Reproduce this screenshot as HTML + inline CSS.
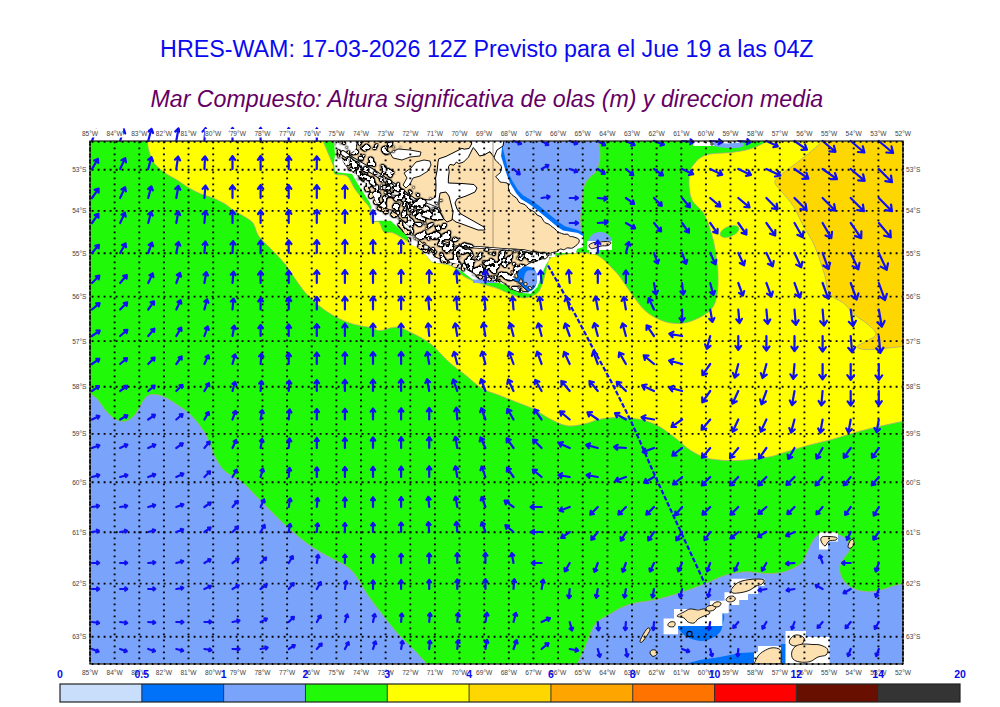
<!DOCTYPE html>
<html><head><meta charset="utf-8"><title>HRES-WAM</title>
<style>
html,body{margin:0;padding:0;background:#fff;width:1000px;height:707px;overflow:hidden;position:relative}
</style></head><body>
<svg width="1000" height="707" viewBox="0 0 1000 707" style="position:absolute;left:0;top:0">
<defs><clipPath id="mc"><rect x="90" y="141" width="813" height="523"/></clipPath></defs>
<g clip-path="url(#mc)">
<rect x="90" y="141" width="813" height="523" fill="rgb(32,250,8)"/>
<path d="M147.0,141.0 C205.7,141.0 264.3,141.0 323.0,141.0 C326.3,149.0 331.0,159.5 333.0,165.0 C335.0,170.5 332.7,172.2 335.0,174.0 C337.3,175.8 343.7,173.5 347.0,176.0 C350.3,178.5 352.4,185.2 355.0,189.0 C357.6,192.8 360.1,195.7 362.6,199.0 C365.1,202.3 368.5,204.9 370.0,208.6 C371.5,212.3 370.0,218.8 371.5,221.0 C373.0,223.2 376.9,220.2 379.0,222.0 C381.1,223.8 381.7,230.2 384.0,232.0 C386.3,233.8 389.2,231.3 393.0,232.8 C396.8,234.3 402.9,238.6 407.0,241.0 C411.1,243.4 414.1,245.1 417.3,247.4 C420.5,249.7 423.7,252.7 426.0,255.0 C428.3,257.3 429.6,260.1 431.3,261.4 C433.0,262.7 433.5,262.1 436.4,262.7 C439.2,263.3 445.2,263.9 448.4,264.8 C451.6,265.8 453.2,266.6 455.6,268.4 C458.0,270.2 459.8,273.5 462.8,275.6 C465.8,277.7 470.0,279.5 473.6,281.0 C477.2,282.5 480.5,283.4 484.4,284.6 C488.3,285.8 492.8,286.7 497.0,288.2 C501.2,289.7 505.1,292.0 509.6,293.6 C514.1,295.2 519.5,298.0 524.0,298.0 C528.5,298.0 533.6,295.8 536.6,293.6 C539.6,291.4 540.5,288.2 542.0,284.6 C543.5,281.0 544.4,276.2 545.6,272.0 C546.8,267.8 547.5,262.1 549.2,259.4 C550.9,256.7 551.7,257.1 556.0,256.0 C560.3,254.9 570.0,253.5 575.0,253.0 C580.0,252.5 582.3,252.7 586.0,253.0 C589.7,253.3 593.8,253.7 597.0,255.0 C600.2,256.3 602.5,258.8 605.0,261.0 C607.5,263.2 609.5,265.3 612.0,268.0 C614.5,270.7 616.7,272.6 620.0,277.0 C623.3,281.4 627.8,288.7 632.0,294.3 C636.2,299.9 640.2,306.2 645.0,310.5 C649.8,314.8 655.6,318.0 661.0,320.2 C666.4,322.4 672.0,323.5 677.5,323.5 C683.0,323.5 688.3,322.4 693.7,320.2 C699.1,318.0 706.2,314.3 710.0,310.5 C713.8,306.7 715.2,303.4 716.5,297.5 C717.8,291.6 718.2,283.1 718.0,275.0 C717.8,266.9 716.3,256.4 715.0,248.7 C713.7,241.0 711.9,234.9 710.0,229.0 C708.1,223.1 706.5,217.8 703.5,213.0 C700.5,208.2 694.4,204.9 692.0,200.0 C689.6,195.1 689.2,188.8 689.0,183.8 C688.8,178.8 689.5,173.5 690.5,170.0 C691.5,166.5 693.4,165.0 695.0,163.0 C696.6,161.0 697.5,159.5 700.0,158.0 C702.5,156.5 705.0,154.9 710.0,154.0 C715.0,153.1 723.3,153.3 730.0,152.5 C736.7,151.7 743.7,150.9 750.0,149.0 C756.3,147.1 762.0,143.7 768.0,141.0 C813.0,141.0 858.0,141.0 903.0,141.0 C903.0,234.4 903.0,327.9 903.0,421.3 C895.4,422.9 888.1,424.4 880.3,426.2 C872.5,428.0 864.3,430.0 856.3,432.2 C848.3,434.4 840.2,437.2 832.2,439.4 C824.2,441.6 816.2,443.2 808.2,445.4 C800.2,447.6 790.0,450.8 784.0,452.6 C778.0,454.4 776.7,455.4 772.0,456.4 C767.3,457.4 761.3,458.1 756.0,458.8 C750.7,459.5 745.3,460.1 740.0,460.4 C734.7,460.7 729.1,460.7 724.0,460.4 C718.9,460.1 713.6,459.6 709.6,458.8 C705.6,458.0 703.5,457.2 700.0,455.6 C696.5,454.0 692.3,451.6 688.8,449.2 C685.3,446.8 682.7,444.0 679.2,441.2 C675.7,438.4 671.7,435.1 668.0,432.4 C664.3,429.7 660.8,427.2 656.8,425.2 C652.8,423.2 648.5,421.6 644.0,420.4 C639.5,419.2 633.6,418.5 629.6,418.0 C625.6,417.5 624.8,417.0 620.0,417.2 C615.2,417.4 607.0,417.9 601.0,419.0 C595.0,420.1 589.7,423.0 584.0,424.1 C578.3,425.2 572.7,426.7 567.0,425.8 C561.3,424.9 555.7,421.8 550.0,419.0 C544.3,416.2 538.7,411.6 533.0,408.8 C527.3,406.0 521.7,404.3 516.0,402.0 C510.3,399.7 504.7,397.5 499.0,395.2 C493.3,392.9 487.7,391.8 482.0,388.4 C476.3,385.0 470.7,379.3 465.0,374.8 C459.3,370.3 453.7,366.3 448.0,361.2 C442.3,356.1 436.7,348.7 431.0,344.2 C425.3,339.7 419.7,336.8 414.0,334.0 C408.3,331.2 402.7,327.8 397.0,327.2 C391.3,326.6 384.3,330.5 380.0,330.6 C375.7,330.7 376.4,329.1 371.3,327.8 C366.2,326.5 356.8,325.6 349.5,323.0 C342.2,320.4 334.6,316.6 327.8,312.2 C321.1,307.8 314.2,301.9 309.0,296.7 C303.8,291.5 300.6,286.4 296.6,281.0 C292.6,275.6 289.3,269.3 285.0,264.0 C280.7,258.7 275.0,253.2 271.0,249.0 C267.0,244.8 263.3,241.7 261.0,239.0 C258.7,236.3 258.3,235.7 257.0,233.0 C255.7,230.3 255.0,225.7 253.0,223.0 C251.0,220.3 248.3,219.2 245.0,217.0 C241.7,214.8 236.3,212.2 233.0,210.0 C229.7,207.8 228.3,206.0 225.0,204.0 C221.7,202.0 217.0,199.7 213.0,198.0 C209.0,196.3 205.0,195.7 201.0,194.0 C197.0,192.3 193.0,190.3 189.0,188.0 C185.0,185.7 181.0,182.5 177.0,180.0 C173.0,177.5 168.8,175.8 165.0,173.0 C161.2,170.2 156.7,166.7 154.0,163.0 C151.3,159.3 150.2,154.7 149.0,151.0 C147.8,147.3 147.7,144.3 147.0,141.0Z" fill="#ffff00" stroke="rgb(170,170,130)" stroke-width="0.8"/>
<path d="M823.0,141.0 C819.4,144.1 816.6,146.8 812.2,150.4 C807.8,154.1 801.4,159.3 796.7,162.9 C792.0,166.5 787.8,169.1 784.2,172.2 C780.6,175.3 775.4,178.5 774.9,181.6 C774.4,184.7 778.0,186.8 781.1,190.9 C784.2,195.1 790.0,200.8 793.6,206.5 C797.2,212.2 799.8,219.4 802.9,225.1 C806.0,230.8 809.6,235.5 812.2,240.7 C814.8,245.9 816.4,250.6 818.5,256.3 C820.6,262.0 822.9,268.7 824.7,274.9 C826.5,281.1 826.3,288.9 829.4,293.6 C832.5,298.3 839.0,299.4 843.4,303.0 C847.8,306.6 851.6,311.8 855.8,315.4 C859.9,319.0 864.9,321.6 868.3,324.7 C871.7,327.8 876.0,331.4 876.0,334.0 C876.0,336.6 871.4,338.2 868.3,340.3 C865.2,342.4 857.4,344.9 857.4,346.5 C857.4,348.1 860.7,349.6 868.3,349.6 C875.9,349.6 891.4,347.5 903.0,346.5 C903.0,278.0 903.0,209.5 903.0,141.0 C876.3,141.0 849.7,141.0 823.0,141.0Z" fill="rgb(255,215,0)" stroke="rgb(170,170,130)" stroke-width="0.8"/>
<path d="M90.0,393.2 C92.5,395.3 94.6,396.3 97.4,399.4 C100.2,402.5 103.7,408.4 106.8,411.8 C109.9,415.2 112.9,418.0 116.0,419.6 C119.1,421.2 122.4,422.0 125.5,421.2 C128.6,420.4 131.7,418.6 134.8,415.0 C137.9,411.4 141.5,402.8 144.1,399.4 C146.7,396.0 147.3,395.2 150.4,394.7 C153.5,394.2 158.1,394.5 162.8,396.3 C167.5,398.1 173.7,402.5 178.4,405.6 C183.1,408.7 186.7,410.9 190.8,415.0 C195.0,419.1 200.2,425.8 203.3,430.5 C206.4,435.2 207.4,438.3 209.5,443.0 C211.6,447.7 213.1,453.8 215.7,458.5 C218.3,463.2 220.8,467.6 225.2,471.5 C229.6,475.4 236.4,477.4 242.0,482.0 C247.6,486.6 251.8,491.8 258.8,498.8 C265.8,505.8 275.6,516.3 284.0,524.0 C292.4,531.7 301.5,539.4 309.2,545.0 C316.9,550.6 323.2,553.4 330.2,557.6 C337.2,561.8 344.9,563.9 351.2,570.2 C357.5,576.5 363.1,588.4 368.0,595.4 C372.9,602.4 375.7,605.9 380.6,612.2 C385.5,618.5 391.8,626.9 397.4,633.2 C403.0,639.5 409.3,644.9 414.2,650.0 C419.1,655.1 422.6,659.3 426.8,664.0 C314.5,664.0 202.3,664.0 90.0,664.0 C90.0,573.7 90.0,483.5 90.0,393.2Z" fill="rgb(122,164,252)" stroke="rgb(170,170,130)" stroke-width="0.8"/>
<path d="M577.2,664.0 C579.5,659.1 581.2,655.9 584.1,649.4 C587.0,642.9 590.5,631.0 594.5,625.2 C598.5,619.5 602.5,618.4 608.3,614.9 C614.0,611.4 621.0,607.1 629.0,604.5 C637.0,601.9 648.0,601.4 656.6,599.4 C665.2,597.4 672.7,595.1 680.7,592.5 C688.8,589.9 697.4,586.7 704.9,583.8 C712.4,580.9 718.7,577.2 725.6,575.2 C732.5,573.2 739.4,572.1 746.3,571.8 C753.2,571.5 760.7,573.5 767.0,573.5 C773.3,573.5 778.5,573.5 784.2,571.8 C790.0,570.1 797.5,566.9 801.5,563.1 C805.5,559.4 806.1,553.6 808.4,549.3 C810.7,545.0 812.4,540.2 815.3,537.3 C818.2,534.4 822.1,532.7 825.6,532.1 C829.1,531.5 832.5,532.6 836.0,533.8 C839.5,534.9 844.0,536.4 846.3,539.0 C848.6,541.6 850.4,545.8 849.8,549.3 C849.2,552.8 844.6,556.2 842.9,559.7 C841.2,563.2 838.8,566.0 839.4,570.0 C840.0,574.0 842.8,580.3 846.3,583.8 C849.8,587.2 854.9,589.6 860.1,590.7 C865.3,591.9 871.6,591.6 877.4,590.7 C883.1,589.9 890.3,586.8 894.6,585.6 C898.9,584.5 900.2,584.4 903.0,583.8 C903.0,610.5 903.0,637.3 903.0,664.0 C794.4,664.0 685.8,664.0 577.2,664.0Z" fill="rgb(122,164,252)" stroke="rgb(170,170,130)" stroke-width="0.8"/>
<path d="M494.0,141.0 C528.8,141.0 563.6,141.0 598.4,141.0 C598.9,146.0 600.3,151.1 600.0,156.0 C599.7,160.9 598.4,166.8 596.6,170.4 C594.8,174.0 591.5,174.9 589.4,177.6 C587.3,180.3 585.2,182.7 584.0,186.6 C582.8,190.5 582.8,195.6 582.2,201.0 C581.6,206.4 580.9,213.6 580.4,219.0 C579.9,224.4 582.9,230.6 579.5,233.4 C576.1,236.2 566.6,237.2 560.0,236.0 C553.4,234.8 546.7,230.0 540.0,226.0 C533.3,222.0 525.8,218.0 520.0,212.0 C514.2,206.0 509.0,198.7 505.0,190.0 C501.0,181.3 497.8,168.2 496.0,160.0 C494.2,151.8 494.7,147.3 494.0,141.0Z" fill="rgb(122,164,252)" stroke="rgb(170,170,130)" stroke-width="0.8"/>
<ellipse cx="729.5" cy="231.5" rx="10" ry="5" transform="rotate(-22 729.5 231.5)" fill="rgb(32,250,8)" stroke="rgb(170,170,130)" stroke-width="0.6"/>
<path d="M588,243 A12,11 0 0 1 612,243 Z" fill="rgb(122,164,252)"/>
<defs><filter id="fjH" filterUnits="userSpaceOnUse" x="320" y="135" width="260" height="170" color-interpolation-filters="sRGB"><feTurbulence type="fractalNoise" baseFrequency="0.15" numOctaves="3" seed="4" result="nz"/><feColorMatrix in="nz" type="matrix" values="0 0 0 0 0  0 0 0 0 0  0 0 0 0 0  30.0 0 0 0 -16.050" result="m"/><feComposite in="m" in2="SourceAlpha" operator="in" result="hl"/><feGaussianBlur in="hl" stdDeviation="1.0" result="bl"/><feColorMatrix in="bl" type="matrix" values="0 0 0 0 0  0 0 0 0 0  0 0 0 0 0  0 0 0 5 0" result="dl"/><feFlood flood-color="#000" result="bk"/><feComposite in="bk" in2="dl" operator="in" result="rg"/><feFlood flood-color="#fff" result="fc"/><feComposite in="fc" in2="hl" operator="in" result="fh"/><feMerge><feMergeNode in="rg"/><feMergeNode in="fh"/></feMerge></filter><filter id="fjH2" filterUnits="userSpaceOnUse" x="320" y="135" width="260" height="170" color-interpolation-filters="sRGB"><feTurbulence type="fractalNoise" baseFrequency="0.16" numOctaves="3" seed="6" result="nz"/><feColorMatrix in="nz" type="matrix" values="0 0 0 0 0  0 0 0 0 0  0 0 0 0 0  30.0 0 0 0 -17.100" result="m"/><feComposite in="m" in2="SourceAlpha" operator="in" result="hl"/><feGaussianBlur in="hl" stdDeviation="1.0" result="bl"/><feColorMatrix in="bl" type="matrix" values="0 0 0 0 0  0 0 0 0 0  0 0 0 0 0  0 0 0 5 0" result="dl"/><feFlood flood-color="#000" result="bk"/><feComposite in="bk" in2="dl" operator="in" result="rg"/><feFlood flood-color="#fff" result="fc"/><feComposite in="fc" in2="hl" operator="in" result="fh"/><feMerge><feMergeNode in="rg"/><feMergeNode in="fh"/></feMerge></filter><filter id="fjI" filterUnits="userSpaceOnUse" x="320" y="135" width="260" height="170" color-interpolation-filters="sRGB"><feTurbulence type="fractalNoise" baseFrequency="0.17" numOctaves="3" seed="9" result="nz"/><feColorMatrix in="nz" type="matrix" values="0 0 0 0 0  0 0 0 0 0  0 0 0 0 0  30.0 0 0 0 -16.500" result="m"/><feComposite in="m" in2="SourceAlpha" operator="in" result="hl"/><feGaussianBlur in="hl" stdDeviation="1.0" result="bl"/><feColorMatrix in="bl" type="matrix" values="0 0 0 0 0  0 0 0 0 0  0 0 0 0 0  0 0 0 5 0" result="dl"/><feFlood flood-color="#000" result="bk"/><feComposite in="bk" in2="dl" operator="in" result="rg"/><feFlood flood-color="rgb(253,224,176)" result="fc"/><feComposite in="fc" in2="hl" operator="in" result="fh"/><feMerge><feMergeNode in="rg"/><feMergeNode in="fh"/></feMerge></filter><clipPath id="cpL"><polygon points="357.0,141.0 471.6,141.0 473.2,147.6 474.8,149.2 479.6,156.0 484.4,154.8 489.3,151.2 493.6,155.0 501.2,166.9 502.0,170.3 495.3,177.0 500.4,181.3 507.2,183.8 508.0,189.0 513.0,196.0 518.4,201.8 527.6,207.3 535.0,212.8 546.0,222.0 555.2,229.4 560.7,233.0 573.6,236.7 579.0,238.5 578.0,244.0 573.6,247.8 560.7,249.6 555.0,252.0 548.0,254.5 545.0,258.0 538.0,261.0 530.0,263.0 524.0,266.0 519.0,270.0 515.0,275.0 514.0,281.0 520.0,285.0 526.0,289.0 528.0,292.0 520.0,292.0 510.0,288.0 502.0,281.0 491.6,277.4 480.8,275.6 470.0,272.0 461.0,264.8 444.0,261.0 434.0,256.0 428.0,246.0 421.0,241.0 413.0,234.0 409.0,226.0 401.0,220.0 396.0,211.0 384.0,208.0 376.6,203.0 370.0,188.0 364.0,181.0 356.0,174.0 348.0,167.0 343.0,162.0 342.0,158.0 348.0,156.0 353.0,153.0 357.0,148.0"/></clipPath><clipPath id="cpW"><polygon points="333.0,141.0 501.0,141.0 502.0,148.0 501.0,156.0 506.6,174.0 510.0,183.0 516.0,193.0 521.0,199.0 530.0,204.5 537.0,210.0 548.0,219.0 557.0,226.6 563.0,230.5 578.0,233.0 583.0,236.0 583.0,240.0 583.0,247.0 577.0,249.0 576.0,253.0 556.0,253.0 555.0,257.0 549.0,257.0 548.8,260.2 546.0,264.4 541.8,274.2 537.6,286.8 530.6,293.8 518.0,292.4 509.6,286.8 498.4,282.6 473.0,279.8 462.0,271.4 449.4,264.4 436.4,262.7 431.3,261.4 426.0,255.0 417.3,247.4 408.4,243.6 407.0,236.0 393.0,223.0 390.6,220.7 380.4,220.7 371.5,221.0 371.5,208.0 370.0,203.0 363.0,192.0 356.0,181.0 352.0,174.0 335.0,172.0 334.0,163.0 335.0,155.0 334.0,141.0"/></clipPath></defs>
<polygon points="494.0,141.0 503.0,141.0 503.0,148.8 509.0,174.0 512.4,181.0 518.0,190.0 523.0,195.3 532.3,200.8 539.7,206.3 550.7,215.5 560.0,223.0 565.4,226.5 578.0,230.0 584.0,233.0 584.0,238.0 560.0,236.0 540.8,220.0 526.4,208.0 517.4,199.0 508.4,186.0 505.0,172.0 499.0,152.0" fill="rgb(0,114,250)" />
<polygon points="333.0,141.0 501.0,141.0 502.0,148.0 501.0,156.0 506.6,174.0 510.0,183.0 516.0,193.0 521.0,199.0 530.0,204.5 537.0,210.0 548.0,219.0 557.0,226.6 563.0,230.5 578.0,233.0 583.0,236.0 583.0,240.0 583.0,247.0 577.0,249.0 576.0,253.0 556.0,253.0 555.0,257.0 549.0,257.0 548.8,260.2 546.0,264.4 541.8,274.2 537.6,286.8 530.6,293.8 518.0,292.4 509.6,286.8 498.4,282.6 473.0,279.8 462.0,271.4 449.4,264.4 436.4,262.7 431.3,261.4 426.0,255.0 417.3,247.4 408.4,243.6 407.0,236.0 393.0,223.0 390.6,220.7 380.4,220.7 371.5,221.0 371.5,208.0 370.0,203.0 363.0,192.0 356.0,181.0 352.0,174.0 335.0,172.0 334.0,163.0 335.0,155.0 334.0,141.0" fill="white" />
<path d="M508.0,267.0 C510.0,264.0 516.8,265.8 521.0,266.0 C525.2,266.2 530.3,266.2 533.0,268.0 C535.7,269.8 536.7,273.8 537.0,277.0 C537.3,280.2 536.5,284.5 535.0,287.0 C533.5,289.5 531.2,291.3 528.0,292.0 C524.8,292.7 519.2,292.3 516.0,291.0 C512.8,289.7 510.3,288.0 509.0,284.0 C507.7,280.0 506.0,270.0 508.0,267.0Z" fill="rgb(0,114,250)"/>
<path d="M527.0,271.0 C529.0,269.7 534.5,269.8 536.0,272.0 C537.5,274.2 537.2,281.5 536.0,284.0 C534.8,286.5 531.0,287.7 529.0,287.0 C527.0,286.3 524.3,282.7 524.0,280.0 C523.7,277.3 525.0,272.3 527.0,271.0Z" fill="rgb(122,164,252)"/>
<polygon points="473,279.5 498,280 498,283 473,283" fill="rgb(122,164,252)"/>
<g clip-path="url(#cpW)"><g filter="url(#fjI)"><polyline points="340.0,150.0 352.0,169.0 366.0,184.0 376.0,203.0 385.0,211.0 395.0,217.0 405.0,228.0 412.0,240.0 426.0,249.0 444.0,260.0 465.0,268.0 482.0,276.0 502.0,281.0" fill="none" stroke="#000" stroke-width="6" stroke-linejoin="round"/><polyline points="338,141 344,152 343,158" fill="none" stroke="#000" stroke-width="10"/></g></g>
<path d="M357.7,141.8 C358.2,141.1 359.1,141.1 359.9,140.8 C361.2,140.9 362.8,141.0 363.9,141.1 C364.9,141.3 365.2,141.5 366.1,141.5 C367.0,141.5 368.2,141.2 369.3,141.0 C370.3,140.9 371.3,140.7 372.4,140.6 C373.2,140.4 374.0,140.3 374.9,140.1 C376.1,140.6 377.4,141.3 378.5,141.6 C379.6,141.9 380.5,142.1 381.6,141.8 C382.6,141.6 383.6,140.8 384.6,140.3 C385.3,140.8 386.0,141.5 386.8,141.8 C387.6,142.0 388.3,141.9 389.5,141.7 C390.6,141.4 392.3,140.8 393.7,140.4 C394.4,140.7 394.7,141.5 395.7,141.4 C396.6,141.4 398.2,140.6 399.5,140.2 C400.4,140.2 401.4,140.3 402.3,140.4 C403.5,140.6 405.0,141.0 405.9,141.1 C406.7,141.1 406.9,140.9 407.4,140.8 C408.4,141.1 409.1,141.6 410.4,141.7 C411.7,141.8 414.0,141.4 415.0,141.4 C416.0,141.4 415.6,141.8 416.4,141.8 C417.2,141.8 418.7,141.4 419.9,141.3 C421.1,141.2 422.9,141.2 423.8,141.1 C424.8,141.0 425.1,140.7 425.7,140.5 C427.0,140.5 428.4,140.4 429.8,140.3 C430.6,140.8 431.3,141.8 432.2,141.8 C433.1,141.8 434.2,140.8 435.2,140.4 C436.4,140.5 437.5,140.6 438.7,140.7 C439.8,140.7 440.9,140.7 442.0,140.8 C443.0,141.0 444.2,141.5 445.0,141.6 C445.9,141.6 446.0,141.3 446.9,141.1 C447.8,140.9 449.2,140.6 450.4,140.3 C451.7,140.5 453.0,140.6 454.2,140.7 C455.1,140.5 455.9,140.4 456.7,140.2 C457.9,140.8 459.3,141.8 460.3,141.9 C461.4,141.9 462.0,140.8 462.9,140.3 C463.9,140.5 464.9,140.7 465.9,140.9 C466.8,140.8 467.6,140.6 468.5,140.5 C469.3,140.9 470.3,140.9 471.0,141.6 C471.6,142.3 472.1,143.8 472.6,144.7 C473.0,145.7 473.2,146.7 473.6,147.4 C474.0,148.1 474.2,148.0 474.9,148.8 C475.5,149.7 476.6,151.3 477.5,152.5 C478.3,153.6 479.0,155.4 480.1,155.6 C481.2,155.9 483.2,154.6 484.2,154.0 C485.2,153.5 485.3,153.0 486.0,152.5 C486.7,152.0 487.2,150.5 488.4,151.1 C489.7,151.6 492.3,154.4 493.4,155.7 C494.4,157.0 494.1,157.9 494.7,158.8 C495.2,159.8 495.9,160.8 496.7,161.5 C497.4,162.3 498.3,162.6 499.0,163.5 C499.8,164.3 501.1,165.6 501.4,166.6 C501.7,167.7 501.3,168.6 501.1,169.6 C500.9,170.7 500.5,172.1 500.1,172.9 C499.6,173.7 499.1,173.7 498.4,174.3 C497.7,175.0 495.9,176.0 495.8,176.7 C495.7,177.5 497.1,177.9 497.9,178.8 C498.6,179.6 499.3,181.4 500.2,182.0 C501.2,182.7 502.1,182.1 503.4,182.4 C504.6,182.7 507.1,182.6 507.9,183.7 C508.8,184.8 508.2,187.5 508.6,189.1 C508.9,190.6 509.4,191.8 510.2,192.9 C511.0,194.0 512.2,194.9 513.3,195.8 C514.3,196.7 515.6,197.1 516.6,198.2 C517.6,199.2 518.2,201.3 519.0,202.2 C519.9,203.1 520.9,203.2 521.8,203.6 C522.8,204.0 524.0,203.9 525.0,204.6 C526.0,205.4 527.1,207.1 527.9,208.0 C528.7,208.8 529.1,209.1 529.9,209.6 C530.7,210.1 532.0,210.4 532.9,211.0 C533.8,211.5 534.8,212.1 535.5,212.8 C536.2,213.5 536.2,214.5 537.1,215.1 C538.0,215.8 539.9,215.9 541.0,216.8 C542.0,217.7 542.5,219.3 543.2,220.3 C543.9,221.3 544.2,222.0 545.1,222.7 C546.1,223.3 547.6,223.5 548.8,224.2 C550.0,225.0 551.5,226.3 552.5,227.1 C553.5,227.8 553.9,228.0 554.8,228.8 C555.7,229.6 556.7,231.1 557.8,231.9 C558.9,232.7 560.5,233.0 561.6,233.4 C562.7,233.8 563.2,234.1 564.3,234.3 C565.3,234.4 567.0,233.9 567.9,234.2 C568.8,234.6 568.9,236.0 569.7,236.4 C570.5,236.8 571.2,236.3 572.7,236.7 C574.3,237.2 577.9,238.1 578.8,239.3 C579.7,240.4 579.2,242.1 578.2,243.5 C577.2,244.9 574.1,247.0 572.8,247.8 C571.5,248.5 571.4,248.2 570.5,248.2 C569.5,248.2 568.4,247.7 567.3,247.9 C566.2,248.2 564.8,249.6 563.7,249.7 C562.5,249.9 561.4,248.7 560.3,249.0 C559.3,249.3 558.0,251.1 557.3,251.6 C556.5,252.1 556.7,251.6 555.7,251.8 C554.7,252.1 552.4,252.4 551.2,253.0 C550.0,253.6 549.6,254.3 548.7,255.2 C547.8,256.2 547.0,258.0 545.8,258.6 C544.7,259.2 543.0,258.5 541.8,258.8 C540.7,259.1 540.0,259.9 538.8,260.4 C537.6,260.9 536.0,261.3 534.4,261.7 C532.8,262.2 530.5,262.7 529.2,263.3 C527.9,263.9 527.5,264.7 526.6,265.2 C525.6,265.7 524.3,266.0 523.4,266.3 C522.6,266.6 522.2,266.6 521.4,267.2 C520.6,267.7 519.3,268.7 518.6,269.7 C518.0,270.6 518.0,272.2 517.5,273.0 C517.0,273.8 516.4,273.6 515.8,274.4 C515.2,275.2 514.3,276.8 514.0,277.8 C513.6,278.8 513.1,279.7 513.7,280.5 C514.3,281.2 516.4,281.5 517.5,282.1 C518.5,282.8 519.2,283.6 520.1,284.3 C520.9,285.1 521.7,285.7 522.7,286.6 C523.6,287.5 525.0,288.9 525.9,289.8 C526.9,290.7 528.6,291.6 528.4,291.9 C528.3,292.2 526.4,291.5 524.9,291.6 C523.4,291.6 520.7,292.3 519.4,292.2 C518.2,292.2 518.2,291.5 517.2,291.1 C516.1,290.7 514.6,290.1 513.3,289.7 C512.1,289.4 510.6,289.4 509.7,288.8 C508.8,288.2 508.6,287.0 507.8,286.2 C506.9,285.4 505.7,284.8 504.7,284.1 C503.8,283.4 503.0,282.4 501.9,281.8 C500.9,281.2 499.6,281.1 498.4,280.6 C497.2,280.1 495.9,279.1 494.7,278.6 C493.6,278.1 492.7,277.7 491.7,277.5 C490.7,277.3 489.9,277.6 488.6,277.4 C487.3,277.3 485.1,276.9 483.8,276.6 C482.5,276.2 482.1,275.7 480.8,275.4 C479.6,275.2 477.6,275.4 476.5,275.1 C475.4,274.8 475.5,274.3 474.5,273.6 C473.4,273.0 471.4,272.0 470.1,271.2 C468.8,270.5 467.8,270.0 466.7,269.3 C465.5,268.6 464.2,267.7 463.3,267.0 C462.3,266.2 461.8,265.2 460.8,264.6 C459.7,264.0 457.8,263.6 456.8,263.4 C455.9,263.2 456.1,263.5 455.0,263.4 C453.9,263.2 451.6,262.7 450.3,262.4 C449.0,262.2 448.3,261.9 447.2,261.7 C446.0,261.6 444.4,261.8 443.4,261.4 C442.5,261.1 442.3,260.1 441.4,259.6 C440.6,259.0 439.4,258.8 438.2,258.2 C436.9,257.6 435.0,257.0 434.1,256.0 C433.1,255.1 433.1,253.6 432.3,252.4 C431.5,251.3 429.9,250.3 429.2,249.2 C428.6,248.2 429.5,247.2 428.6,246.3 C427.6,245.5 425.1,245.0 423.7,244.1 C422.3,243.2 421.2,242.0 420.2,241.0 C419.2,240.1 418.6,239.1 417.8,238.3 C416.9,237.6 415.9,237.1 415.2,236.5 C414.5,235.9 414.1,235.9 413.4,234.7 C412.7,233.5 411.9,230.8 411.0,229.2 C410.1,227.6 409.1,226.2 408.2,225.3 C407.3,224.3 406.5,224.1 405.7,223.4 C404.9,222.8 404.0,222.0 403.3,221.4 C402.6,220.8 402.3,220.4 401.6,219.7 C401.0,219.1 400.1,218.5 399.3,217.5 C398.5,216.6 397.8,215.1 397.1,214.0 C396.4,212.9 395.7,211.6 395.2,211.0 C394.6,210.4 394.7,210.6 393.8,210.4 C392.8,210.2 390.8,210.0 389.6,209.7 C388.5,209.5 387.9,209.0 387.0,208.7 C386.1,208.5 385.2,208.8 384.2,208.4 C383.2,208.0 382.1,207.2 381.0,206.4 C379.9,205.6 378.3,204.5 377.4,203.6 C376.5,202.6 376.3,201.7 375.6,200.5 C374.9,199.4 373.8,197.6 373.4,196.5 C373.0,195.3 373.7,194.7 373.3,193.9 C372.8,193.0 371.1,192.5 370.5,191.4 C369.8,190.4 369.6,188.6 369.3,187.6 C369.1,186.5 369.2,185.9 368.8,185.1 C368.3,184.3 367.3,183.6 366.6,182.9 C365.9,182.2 365.4,181.4 364.5,180.8 C363.7,180.1 362.4,179.8 361.4,179.0 C360.5,178.2 359.9,176.7 359.1,175.8 C358.2,174.9 357.3,174.0 356.3,173.4 C355.3,172.8 353.9,172.9 352.9,172.2 C351.8,171.5 351.0,170.0 350.0,169.2 C349.1,168.3 348.2,168.0 347.3,167.1 C346.5,166.3 345.5,165.1 344.9,164.2 C344.3,163.4 344.3,163.1 343.9,161.9 C343.4,160.7 341.9,158.1 342.0,157.2 C342.1,156.2 343.5,156.6 344.6,156.3 C345.6,156.0 346.9,156.0 348.2,155.4 C349.5,154.7 351.2,153.1 352.4,152.4 C353.6,151.6 354.7,151.6 355.4,150.8 C356.1,150.0 356.4,148.7 356.6,147.7 C356.8,146.6 356.4,145.6 356.6,144.6 C356.8,143.6 357.1,142.4 357.7,141.8Z" fill="rgb(253,224,176)" stroke="#000" stroke-width="1"/>
<polygon points="471.6,140.0 504.0,140.0 503.0,146.0 497.0,150.0 494.0,157.2 490.0,151.6 484.4,154.8 479.6,156.0 474.8,149.2 473.2,147.6 470.0,154.0 468.4,157.2 463.6,162.0 458.8,163.6 456.4,162.0 454.0,165.2 450.0,164.4 448.4,166.8 449.2,171.6 448.4,178.0 448.3,183.0 462.0,183.5 474.0,184.5 477.0,188.0 475.0,192.0 466.0,196.0 457.0,199.0 455.0,203.0 457.0,209.0 461.0,214.0 468.0,218.0 476.0,222.5 484.0,227.0 485.0,230.0 478.0,230.0 470.0,227.0 462.0,224.0 456.0,222.0 452.0,219.0 448.0,214.0 441.0,211.0 433.0,210.0 425.0,209.0 415.0,208.0 405.0,204.0 406.0,198.0 418.0,199.0 430.0,200.0 435.5,197.0 436.0,185.0 435.6,178.0 437.2,170.0 438.0,162.0 438.8,158.8 446.0,156.4 454.0,152.4 462.0,148.4 464.4,149.2 469.2,148.4 471.6,144.0" fill="#fff" stroke="#000" stroke-width="1" stroke-linejoin="round" />
<polygon points="440.0,193.0 446.0,192.0 449.0,196.0 451.0,204.0 453.0,212.0 452.0,220.0 447.0,222.0 442.0,217.0 439.0,209.0 439.0,200.0" fill="rgb(253,224,176)" stroke="#000" stroke-width="1" stroke-linejoin="round" />
<polyline points="343.0,153.0 350.0,158.0 360.0,164.0 372.0,171.0 384.0,179.0 396.0,187.0 406.0,195.0 416.0,202.0 428.0,206.0 438.0,210.0" fill="none" stroke="#000" stroke-width="5.5" stroke-linejoin="round" stroke-linecap="round"/>
<polyline points="343.0,153.0 350.0,158.0 360.0,164.0 372.0,171.0 384.0,179.0 396.0,187.0 406.0,195.0 416.0,202.0 428.0,206.0 438.0,210.0" fill="none" stroke="#fff" stroke-width="3.6" stroke-linejoin="round" stroke-linecap="round"/>
<polygon points="390.0,153.0 398.0,149.0 410.0,150.0 421.0,152.0 420.0,156.0 410.0,157.0 402.0,160.0 393.0,158.0" fill="#fff" stroke="#000" stroke-width="0.9" stroke-linejoin="round" />
<polygon points="411.0,168.0 416.0,162.0 424.0,160.0 430.0,161.0 431.0,165.0 428.0,171.0 420.0,176.0 413.0,178.0 410.0,184.0 406.0,188.0 403.0,185.0 407.0,178.0 404.0,173.0" fill="#fff" stroke="#000" stroke-width="0.9" stroke-linejoin="round" />
<polyline points="440.0,241.0 455.0,246.0 480.0,247.5 506.0,249.5 524.0,250.5 540.0,254.5 552.0,254.0" fill="none" stroke="#000" stroke-width="2.6"/>
<polyline points="440.0,241.0 455.0,246.0 480.0,247.5 506.0,249.5 524.0,250.5 540.0,254.5 552.0,254.0" fill="none" stroke="#fff" stroke-width="1"/>
<g clip-path="url(#cpL)"><g filter="url(#fjH)"><polygon points="330.0,148.0 343.0,153.0 350.0,158.0 360.0,164.0 372.0,171.0 384.0,179.0 396.0,187.0 406.0,195.0 416.0,202.0 428.0,206.0 438.0,210.0 446.0,224.0 452.0,236.0 466.0,244.0 490.0,249.0 520.0,251.0 550.0,254.0 550.0,300.0 330.0,300.0" fill="#000"/></g><g filter="url(#fjH2)"><polyline points="343.0,153.0 350.0,158.0 360.0,164.0 372.0,171.0 384.0,179.0 396.0,187.0 406.0,195.0 416.0,202.0 428.0,206.0 438.0,210.0" fill="none" stroke="#000" stroke-width="22" stroke-linejoin="round"/><polyline points="358,146 380,150 400,146" fill="none" stroke="#000" stroke-width="10"/></g></g>
<path d="M517.5,276.0 C517.6,276.4 518.2,276.7 518.1,277.0 C517.9,277.4 517.1,278.0 516.7,278.0 C516.2,278.0 516.0,277.2 515.5,277.0 C514.9,276.9 513.6,277.4 513.5,277.2 C513.4,276.9 514.6,276.1 514.8,275.6 C515.0,275.2 514.4,274.7 514.6,274.4 C514.9,274.0 515.7,273.7 516.2,273.7 C516.6,273.8 517.2,274.2 517.4,274.6 C517.6,275.0 517.4,275.6 517.5,276.0Z" fill="rgb(253,224,176)" stroke="#000" stroke-width="0.9"/>
<path d="M522.4,281.0 C522.5,281.3 522.4,282.0 522.3,282.3 C522.2,282.6 522.1,282.8 521.8,282.9 C521.4,282.9 520.7,283.0 520.2,282.8 C519.7,282.5 518.9,281.7 518.8,281.4 C518.7,281.1 519.6,281.2 519.8,280.8 C520.0,280.5 519.8,279.4 520.0,279.1 C520.2,278.7 520.9,278.6 521.2,278.8 C521.6,279.0 521.9,280.1 522.1,280.4 C522.3,280.8 522.4,280.7 522.4,281.0Z" fill="rgb(253,224,176)" stroke="#000" stroke-width="0.9"/>
<path d="M527.0,284.1 C527.0,284.3 527.2,284.4 527.1,284.6 C527.0,284.8 526.8,285.2 526.5,285.4 C526.2,285.6 525.5,286.0 525.1,285.9 C524.7,285.8 524.4,285.2 524.1,284.8 C523.9,284.3 523.5,283.8 523.6,283.4 C523.8,283.1 524.7,282.9 525.1,282.7 C525.6,282.6 526.2,282.4 526.5,282.5 C526.8,282.6 526.9,283.1 527.0,283.3 C527.0,283.6 527.0,283.9 527.0,284.1Z" fill="rgb(253,224,176)" stroke="#000" stroke-width="0.9"/>
<path d="M531.8,288.2 C531.9,288.5 532.0,288.9 531.8,289.2 C531.6,289.4 530.8,289.6 530.4,289.5 C530.0,289.5 529.7,289.2 529.5,289.0 C529.2,288.8 529.0,288.6 528.8,288.3 C528.6,288.0 528.0,287.3 528.0,287.0 C528.1,286.8 528.8,286.7 529.1,286.6 C529.5,286.5 529.8,286.3 530.2,286.4 C530.5,286.5 531.0,287.1 531.3,287.4 C531.6,287.6 531.7,287.9 531.8,288.2Z" fill="rgb(253,224,176)" stroke="#000" stroke-width="0.9"/>
<path d="M520.7,287.0 C520.7,287.2 519.9,287.2 519.7,287.4 C519.5,287.6 519.8,288.0 519.5,288.2 C519.2,288.3 518.2,288.5 517.9,288.3 C517.7,288.2 518.0,287.6 518.0,287.4 C518.1,287.1 518.0,287.0 518.0,286.7 C518.0,286.5 517.9,286.1 518.1,286.0 C518.3,286.0 518.9,286.2 519.2,286.2 C519.5,286.3 519.7,286.0 520.0,286.1 C520.2,286.3 520.8,286.8 520.7,287.0Z" fill="rgb(253,224,176)" stroke="#000" stroke-width="0.9"/>
<path d="M513.3,272.0 C513.2,272.3 513.6,272.7 513.4,273.1 C513.2,273.4 512.3,274.1 512.0,274.0 C511.6,274.0 511.6,273.0 511.4,272.8 C511.2,272.5 510.7,272.5 510.7,272.4 C510.6,272.2 510.8,272.1 510.9,271.8 C511.0,271.5 510.9,270.7 511.1,270.5 C511.3,270.4 511.7,270.8 512.1,270.9 C512.5,271.0 513.5,271.1 513.7,271.3 C513.8,271.5 513.3,271.7 513.3,272.0Z" fill="rgb(253,224,176)" stroke="#000" stroke-width="0.9"/>
<line x1="493" y1="141" x2="493" y2="247" stroke="rgb(150,130,100)" stroke-width="0.8"/>
<path d="M589,242 A11.5,9 0 0 1 612,242 Z" fill="rgb(122,164,252)"/>
<polygon points="587,241 612,241 612,250 598,250 598,254 589,254 589,250 587,250" fill="#fff"/>
<path d="M589.0,245.0 C589.5,244.0 592.2,243.0 594.0,242.5 C595.8,242.0 598.0,242.2 600.0,242.0 C602.0,241.8 604.2,241.4 606.0,241.5 C607.8,241.6 610.7,241.8 611.0,242.5 C611.3,243.2 609.7,244.9 608.0,245.5 C606.3,246.1 603.2,245.6 601.0,246.0 C598.8,246.4 596.7,247.6 595.0,248.0 C593.3,248.4 592.0,249.0 591.0,248.5 C590.0,248.0 588.5,246.0 589.0,245.0Z" fill="rgb(253,224,176)" stroke="#000" stroke-width="0.9"/>
<polygon points="693,141 742,141 742,146 693,146" fill="#fff"/>
<path d="M714.0,143.0 C716.0,142.5 723.3,143.5 728.0,143.5 C732.7,143.5 739.7,142.4 742.0,143.0 C744.3,143.6 744.3,146.2 742.0,147.0 C739.7,147.8 732.3,148.1 728.0,148.0 C723.7,147.9 718.3,147.3 716.0,146.5 C713.7,145.7 712.0,143.5 714.0,143.0Z" fill="rgb(122,164,252)"/>
<circle cx="712" cy="144" r="1.2" fill="none" stroke="#000" stroke-width="0.9"/>
<path d="M676.0,621.0 C679.0,618.2 692.3,617.3 700.0,616.0 C707.7,614.7 718.7,611.3 722.4,613.0 C726.1,614.7 723.1,622.5 722.4,626.0 C721.7,629.5 720.9,631.6 718.2,634.0 C715.5,636.4 710.2,639.7 706.0,640.6 C701.8,641.5 697.0,640.9 693.0,639.6 C689.0,638.3 684.8,636.1 682.0,633.0 C679.2,629.9 673.0,623.8 676.0,621.0Z" fill="rgb(0,114,250)"/>
<polygon points="730.8,578.7 764.5,578.7 764.5,586.0 758.0,586.0 758.0,594.0 748.0,594.0 748.0,600.0 739.2,600.0 739.2,605.0 728.7,605.0 728.7,613.3 722.4,613.3 722.4,626.0 678.0,626.0 678.0,634.3 663.6,634.3 663.6,618.6 674.0,618.6 674.0,609.0 710.0,609.0 710.0,600.7 724.5,600.7 724.5,592.3 730.8,592.3" fill="#fff" />
<polygon points="819.0,532.6 838.0,532.6 838.0,541.5 828.0,541.5 828.0,549.4 819.0,549.4" fill="#fff" />
<polygon points="684.6,664 700,660 720,657 740,653 758,652 758,646 781,646 781,644 789.7,644 789.7,664" fill="rgb(0,114,250)"/>
<polygon points="758.0,646.0 781.0,646.0 781.0,664.0 754.0,664.0 754.0,652.0 758.0,652.0" fill="#fff" />
<polygon points="785.5,631.0 806.0,631.0 806.0,637.0 829.6,637.0 829.6,664.0 785.5,664.0" fill="#fff" />
<path d="M731.0,590.0 C731.5,588.5 734.2,585.5 736.0,584.0 C737.8,582.5 739.7,581.8 742.0,581.0 C744.3,580.2 747.3,579.8 750.0,579.5 C752.7,579.2 755.7,578.9 758.0,579.0 C760.3,579.1 763.3,579.2 764.0,580.0 C764.7,580.8 763.3,583.0 762.0,584.0 C760.7,585.0 758.0,585.0 756.0,586.0 C754.0,587.0 752.0,589.0 750.0,590.0 C748.0,591.0 746.0,591.5 744.0,592.0 C742.0,592.5 739.8,592.8 738.0,593.0 C736.2,593.2 734.2,593.5 733.0,593.0 C731.8,592.5 730.5,591.5 731.0,590.0Z" fill="rgb(253,224,176)" stroke="#000" stroke-width="0.9"/>
<path d="M726.0,600.0 C725.8,599.1 727.7,597.1 729.0,596.5 C730.3,595.9 733.0,595.9 734.0,596.5 C735.0,597.1 735.7,599.1 735.0,600.0 C734.3,600.9 731.5,602.0 730.0,602.0 C728.5,602.0 726.2,600.9 726.0,600.0Z" fill="rgb(253,224,176)" stroke="#000" stroke-width="0.9"/>
<path d="M677.0,616.0 C677.0,615.0 681.8,613.2 684.0,612.0 C686.2,610.8 687.7,609.3 690.0,609.0 C692.3,608.7 695.5,610.0 698.0,610.0 C700.5,610.0 703.0,608.5 705.0,609.0 C707.0,609.5 710.2,611.8 710.0,613.0 C709.8,614.2 706.0,615.0 704.0,616.0 C702.0,617.0 699.7,617.8 698.0,619.0 C696.3,620.2 695.7,622.5 694.0,623.0 C692.3,623.5 689.7,622.8 688.0,622.0 C686.3,621.2 685.8,619.0 684.0,618.0 C682.2,617.0 677.0,617.0 677.0,616.0Z" fill="rgb(253,224,176)" stroke="#000" stroke-width="0.9"/>
<path d="M706.0,608.0 C706.3,607.1 708.3,605.8 710.0,605.5 C711.7,605.2 715.3,605.2 716.0,606.0 C716.7,606.8 715.3,609.2 714.0,610.0 C712.7,610.8 709.3,611.3 708.0,611.0 C706.7,610.7 705.7,608.9 706.0,608.0Z" fill="rgb(253,224,176)" stroke="#000" stroke-width="0.9"/>
<path d="M713.0,604.0 C713.5,603.2 715.7,602.0 717.0,601.8 C718.3,601.6 720.7,602.2 721.0,603.0 C721.3,603.8 720.2,605.9 719.0,606.5 C717.8,607.1 715.0,606.9 714.0,606.5 C713.0,606.1 712.5,604.8 713.0,604.0Z" fill="rgb(253,224,176)" stroke="#000" stroke-width="0.9"/>
<path d="M668.0,624.0 C668.3,623.2 669.8,622.0 671.0,621.8 C672.2,621.5 674.5,621.7 675.0,622.5 C675.5,623.3 675.0,625.8 674.0,626.5 C673.0,627.2 670.0,626.9 669.0,626.5 C668.0,626.1 667.7,624.8 668.0,624.0Z" fill="rgb(253,224,176)" stroke="#000" stroke-width="0.9"/>
<path d="M640.0,641.0 C640.3,639.5 642.7,635.2 644.0,633.0 C645.3,630.8 647.0,628.5 648.0,628.0 C649.0,627.5 650.3,628.5 650.0,630.0 C649.7,631.5 647.3,635.0 646.0,637.0 C644.7,639.0 643.0,641.3 642.0,642.0 C641.0,642.7 639.7,642.5 640.0,641.0Z" fill="rgb(253,224,176)" stroke="#000" stroke-width="0.9"/>
<path d="M650.0,653.0 C649.8,651.9 651.0,650.4 652.0,650.0 C653.0,649.6 655.2,649.8 656.0,650.5 C656.8,651.2 657.5,653.0 657.0,654.0 C656.5,655.0 654.2,656.6 653.0,656.4 C651.8,656.2 650.2,654.1 650.0,653.0Z" fill="rgb(253,224,176)" stroke="#000" stroke-width="0.9"/>
<path d="M822.0,537.0 C823.3,536.2 826.6,536.4 829.0,536.5 C831.4,536.6 835.3,536.9 836.5,537.5 C837.7,538.1 837.2,539.4 836.0,540.0 C834.8,540.6 830.8,540.0 829.0,541.0 C827.2,542.0 826.3,546.0 825.0,546.0 C823.7,546.0 821.5,542.5 821.0,541.0 C820.5,539.5 820.7,537.8 822.0,537.0Z" fill="rgb(253,224,176)" stroke="#000" stroke-width="0.9"/>
<path d="M848.0,547.0 C847.8,545.8 849.2,542.2 850.0,541.0 C850.8,539.8 852.3,539.1 853.0,539.6 C853.7,540.1 854.3,542.6 854.0,544.0 C853.7,545.4 852.0,547.5 851.0,548.0 C850.0,548.5 848.2,548.2 848.0,547.0Z" fill="rgb(253,224,176)" stroke="#000" stroke-width="0.9"/>
<path d="M754.0,664.0 C755.3,661.3 756.3,658.2 758.0,656.0 C759.7,653.8 761.8,652.3 764.0,651.0 C766.2,649.7 768.7,648.4 771.0,648.0 C773.3,647.6 776.3,647.8 778.0,648.5 C779.7,649.2 780.5,649.4 781.0,652.0 C781.5,654.6 781.0,660.0 781.0,664.0 C772.0,664.0 763.0,664.0 754.0,664.0Z" fill="rgb(253,224,176)" stroke="#000" stroke-width="0.9"/>
<path d="M789.7,640.0 C790.4,638.6 792.3,636.3 794.0,635.5 C795.7,634.7 798.3,634.8 800.0,635.4 C801.7,636.0 804.2,637.4 804.4,639.0 C804.6,640.6 802.6,643.8 801.0,645.0 C799.4,646.2 796.8,646.2 795.0,646.0 C793.2,645.8 790.9,645.0 790.0,644.0 C789.1,643.0 789.0,641.4 789.7,640.0Z" fill="rgb(253,224,176)" stroke="#000" stroke-width="0.9"/>
<path d="M791.8,652.0 C792.3,649.8 794.0,647.3 796.0,646.0 C798.0,644.7 801.3,644.2 804.0,644.0 C806.7,643.8 809.3,644.3 812.0,644.5 C814.7,644.7 817.4,644.2 820.0,645.0 C822.6,645.8 826.5,647.3 827.5,649.0 C828.5,650.7 827.6,653.7 826.0,655.0 C824.4,656.3 820.7,655.9 818.0,657.0 C815.3,658.1 813.0,660.8 810.0,661.6 C807.0,662.4 802.8,662.4 800.0,662.0 C797.2,661.6 794.4,660.7 793.0,659.0 C791.6,657.3 791.3,654.2 791.8,652.0Z" fill="rgb(253,224,176)" stroke="#000" stroke-width="0.9"/>
<ellipse cx="689.5" cy="634" rx="2.6" ry="2.6" fill="none" stroke="#000" stroke-width="1.1"/>
<g stroke="#000" stroke-width="1.9" stroke-dasharray="1.9 4.1" fill="none"><line x1="878.4" y1="141.45" x2="878.4" y2="664" /><line x1="853.7" y1="141.45" x2="853.7" y2="664" /><line x1="829.1" y1="141.45" x2="829.1" y2="664" /><line x1="804.4" y1="141.45" x2="804.4" y2="664" /><line x1="779.8" y1="141.45" x2="779.8" y2="664" /><line x1="755.2" y1="141.45" x2="755.2" y2="664" /><line x1="730.5" y1="141.45" x2="730.5" y2="664" /><line x1="705.9" y1="141.45" x2="705.9" y2="664" /><line x1="681.3" y1="141.45" x2="681.3" y2="664" /><line x1="656.6" y1="141.45" x2="656.6" y2="664" /><line x1="632.0" y1="141.45" x2="632.0" y2="664" /><line x1="607.4" y1="141.45" x2="607.4" y2="664" /><line x1="582.7" y1="141.45" x2="582.7" y2="664" /><line x1="558.1" y1="141.45" x2="558.1" y2="664" /><line x1="533.4" y1="141.45" x2="533.4" y2="664" /><line x1="508.8" y1="141.45" x2="508.8" y2="664" /><line x1="484.2" y1="141.45" x2="484.2" y2="664" /><line x1="459.5" y1="141.45" x2="459.5" y2="664" /><line x1="434.9" y1="141.45" x2="434.9" y2="664" /><line x1="410.3" y1="141.45" x2="410.3" y2="664" /><line x1="385.6" y1="141.45" x2="385.6" y2="664" /><line x1="361.0" y1="141.45" x2="361.0" y2="664" /><line x1="336.4" y1="141.45" x2="336.4" y2="664" /><line x1="311.7" y1="141.45" x2="311.7" y2="664" /><line x1="287.1" y1="141.45" x2="287.1" y2="664" /><line x1="262.5" y1="141.45" x2="262.5" y2="664" /><line x1="237.8" y1="141.45" x2="237.8" y2="664" /><line x1="213.2" y1="141.45" x2="213.2" y2="664" /><line x1="188.5" y1="141.45" x2="188.5" y2="664" /><line x1="163.9" y1="141.45" x2="163.9" y2="664" /><line x1="139.3" y1="141.45" x2="139.3" y2="664" /><line x1="114.6" y1="141.45" x2="114.6" y2="664" /><line x1="91.65" y1="169.7" x2="903" y2="169.7" /><line x1="91.65" y1="210.9" x2="903" y2="210.9" /><line x1="91.65" y1="253.3" x2="903" y2="253.3" /><line x1="91.65" y1="296.6" x2="903" y2="296.6" /><line x1="91.65" y1="341.1" x2="903" y2="341.1" /><line x1="91.65" y1="386.8" x2="903" y2="386.8" /><line x1="91.65" y1="433.9" x2="903" y2="433.9" /><line x1="91.65" y1="482.3" x2="903" y2="482.3" /><line x1="91.65" y1="532.2" x2="903" y2="532.2" /><line x1="91.65" y1="583.6" x2="903" y2="583.6" /><line x1="91.65" y1="636.8" x2="903" y2="636.8" /></g>
</g>
<polyline points="548,265.5 567,299 590.8,344.2 611.2,381.6 631.6,422.4 655.4,476.8 680,530 705,584" fill="none" stroke="rgb(16,16,240)" stroke-width="2.2" stroke-dasharray="4.8 2"/>
<g fill="none" stroke="rgb(16,16,240)" stroke-width="2.2" stroke-linecap="round" stroke-linejoin="round"><path d="M92.0,141.0L96.1,129.9M92.6,132.2L96.1,129.9L97.2,133.9"/><path d="M120.1,141.0L123.9,129.4M120.4,131.9L123.9,129.4L125.2,133.5"/><path d="M148.2,141.0L151.5,128.8M148.0,131.6L151.5,128.8L153.1,133.0"/><path d="M176.3,141.0L178.5,128.4M175.2,131.6L178.5,128.4L180.5,132.5"/><path d="M204.4,141.0L205.5,128.1M202.5,131.6L205.5,128.1L207.9,132.1"/><path d="M232.5,141.0L232.5,128.0M229.8,131.7L232.5,128.0L235.2,131.7"/><path d="M260.6,141.0L260.6,127.9M257.9,131.7L260.6,127.9L263.3,131.7"/><path d="M288.7,141.0L288.7,128.1M286.0,131.8L288.7,128.1L291.4,131.8"/><path d="M316.8,141.0L316.8,128.3M314.1,132.0L316.8,128.3L319.5,132.0"/><path d="M513.5,141.0L521.1,143.8M519.6,141.5L521.1,143.8L518.5,144.5"/><path d="M541.6,141.0L548.3,144.9M547.2,142.5L548.3,144.9L545.7,145.1"/><path d="M569.7,141.0L577.2,143.7M575.7,141.5L577.2,143.7L574.6,144.5"/><path d="M597.8,141.0L605.1,145.2M603.9,142.6L605.1,145.2L602.2,145.5"/><path d="M625.9,141.0L634.6,145.0M633.0,142.1L634.6,145.0L631.3,145.7"/><path d="M654.0,141.0L664.0,144.7M661.9,141.5L664.0,144.7L660.4,145.7"/><path d="M682.1,141.0L693.7,142.0M690.6,139.3L693.7,142.0L690.2,144.1"/><path d="M710.2,141.0L722.3,142.1M719.1,139.2L722.3,142.1L718.6,144.3"/><path d="M738.3,141.0L750.6,142.1M747.3,139.2L750.6,142.1L746.8,144.3"/><path d="M766.4,141.0L777.8,146.3M775.7,142.4L777.8,146.3L773.4,147.2"/><path d="M794.5,141.0L806.9,149.7M805.1,144.5L806.9,149.7L801.4,149.8"/><path d="M822.6,141.0L835.5,151.8M834.0,145.9L835.5,151.8L829.4,151.4"/><path d="M850.7,141.0L864.4,152.5M862.8,146.2L864.4,152.5L857.9,152.0"/><path d="M878.8,141.0L893.1,153.0M891.5,146.4L893.1,153.0L886.3,152.5"/><path d="M92.0,169.0L97.9,158.9M94.1,160.5L97.9,158.9L98.3,163.0"/><path d="M120.1,169.0L125.2,158.1M121.4,160.2L125.2,158.1L126.0,162.3"/><path d="M148.2,169.0L151.4,157.0M148.0,159.8L151.4,157.0L153.0,161.1"/><path d="M176.3,169.0L178.1,156.5M174.9,159.7L178.1,156.5L180.2,160.4"/><path d="M204.4,169.0L205.1,156.3M202.2,159.8L205.1,156.3L207.5,160.1"/><path d="M232.5,169.0L232.5,156.2M229.8,159.9L232.5,156.2L235.2,159.9"/><path d="M260.6,169.0L260.6,156.0M257.9,159.8L260.6,156.0L263.3,159.8"/><path d="M288.7,169.0L288.7,156.1M286.0,159.8L288.7,156.1L291.4,159.8"/><path d="M316.8,169.0L316.8,156.3M314.1,159.9L316.8,156.3L319.5,159.9"/><path d="M513.5,169.0L519.8,174.3M519.1,171.5L519.8,174.3L517.0,174.1"/><path d="M541.6,169.0L548.4,165.1M545.7,164.8L548.4,165.1L547.3,167.5"/><path d="M569.7,169.0L577.3,171.8M575.8,169.5L577.3,171.8L574.6,172.5"/><path d="M597.8,169.0L604.7,173.8M603.8,171.1L604.7,173.8L601.8,173.9"/><path d="M625.9,169.0L633.3,175.2M632.5,171.9L633.3,175.2L629.9,175.0"/><path d="M654.0,169.0L663.0,175.3M661.7,171.6L663.0,175.3L659.1,175.3"/><path d="M682.1,169.0L693.2,174.2M691.1,170.4L693.2,174.2L688.9,175.0"/><path d="M710.2,169.0L722.3,174.7M720.0,170.5L722.3,174.7L717.6,175.6"/><path d="M738.3,169.0L751.0,174.9M748.5,170.5L751.0,174.9L746.0,175.9"/><path d="M766.4,169.0L780.3,175.5M777.6,170.6L780.3,175.5L774.9,176.5"/><path d="M794.5,169.0L808.4,178.7M806.4,172.9L808.4,178.7L802.3,178.8"/><path d="M822.6,169.0L837.0,179.1M835.0,173.1L837.0,179.1L830.6,179.2"/><path d="M850.7,169.0L864.7,180.8M863.1,174.3L864.7,180.8L858.1,180.3"/><path d="M878.8,169.0L892.0,182.2M891.0,175.5L892.0,182.2L885.3,181.2"/><path d="M92.0,198.0L98.6,188.6M94.7,189.9L98.6,188.6L98.6,192.7"/><path d="M120.1,198.0L125.1,187.3M121.4,189.4L125.1,187.3L125.9,191.4"/><path d="M148.2,198.0L151.3,186.4M148.0,189.1L151.3,186.4L152.8,190.4"/><path d="M176.3,198.0L178.4,185.9M175.3,188.9L178.4,185.9L180.3,189.8"/><path d="M204.4,198.0L205.5,185.5M202.6,188.9L205.5,185.5L207.8,189.3"/><path d="M232.5,198.0L232.5,185.3M229.8,189.0L232.5,185.3L235.2,189.0"/><path d="M260.6,198.0L260.6,185.2M257.9,188.9L260.6,185.2L263.3,188.9"/><path d="M288.7,198.0L288.7,185.1M286.0,188.8L288.7,185.1L291.4,188.8"/><path d="M316.8,198.0L316.8,185.1M314.1,188.8L316.8,185.1L319.5,188.8"/><path d="M344.9,198.0L344.9,185.3M342.2,188.9L344.9,185.3L347.6,188.9"/><path d="M541.6,198.0L549.6,196.6M547.1,195.4L549.6,196.6L547.6,198.6"/><path d="M569.7,198.0L577.9,198.0M575.6,196.3L577.9,198.0L575.6,199.7"/><path d="M597.8,198.0L607.1,198.8M604.6,196.7L607.1,198.8L604.3,200.5"/><path d="M625.9,198.0L634.1,203.8M633.0,200.4L634.1,203.8L630.6,203.8"/><path d="M654.0,198.0L661.8,205.8M661.2,202.0L661.8,205.8L658.0,205.2"/><path d="M682.1,198.0L689.9,207.3M689.6,203.0L689.9,207.3L685.7,206.3"/><path d="M710.2,198.0L720.4,206.6M719.3,201.9L720.4,206.6L715.7,206.2"/><path d="M738.3,198.0L749.5,207.4M748.2,202.3L749.5,207.4L744.3,207.0"/><path d="M766.4,198.0L777.6,209.2M776.7,203.5L777.6,209.2L771.9,208.3"/><path d="M794.5,198.0L806.5,210.0M805.6,203.9L806.5,210.0L800.4,209.1"/><path d="M822.6,198.0L835.3,210.7M834.2,204.2L835.3,210.7L828.8,209.6"/><path d="M850.7,198.0L863.9,211.2M862.9,204.5L863.9,211.2L857.2,210.2"/><path d="M878.8,198.0L892.0,211.2M891.0,204.5L892.0,211.2L885.3,210.2"/><path d="M92.0,223.0L98.4,213.8M94.7,215.1L98.4,213.8L98.5,217.8"/><path d="M120.1,223.0L124.9,212.7M121.4,214.6L124.9,212.7L125.7,216.6"/><path d="M148.2,223.0L151.2,211.8M148.0,214.4L151.2,211.8L152.7,215.6"/><path d="M176.3,223.0L178.4,211.3M175.3,214.3L178.4,211.3L180.2,215.1"/><path d="M204.4,223.0L205.4,211.0M202.6,214.2L205.4,211.0L207.7,214.7"/><path d="M232.5,223.0L232.5,210.7M229.9,214.2L232.5,210.7L235.1,214.2"/><path d="M260.6,223.0L260.6,210.3M258.0,214.0L260.6,210.3L263.2,214.0"/><path d="M288.7,223.0L288.7,210.2M286.0,213.9L288.7,210.2L291.4,213.9"/><path d="M316.8,223.0L316.8,210.0M314.1,213.7L316.8,210.0L319.5,213.7"/><path d="M344.9,223.0L344.9,210.2M342.2,213.9L344.9,210.2L347.6,213.9"/><path d="M373.0,223.0L373.0,210.4M370.4,214.0L373.0,210.4L375.6,214.0"/><path d="M569.7,223.0L578.0,223.0M575.7,221.3L578.0,223.0L575.7,224.7"/><path d="M597.8,223.0L607.7,222.1M604.7,220.3L607.7,222.1L605.1,224.4"/><path d="M625.9,223.0L635.1,228.3M633.6,224.9L635.1,228.3L631.4,228.7"/><path d="M654.0,223.0L661.1,231.4M660.8,227.6L661.1,231.4L657.3,230.5"/><path d="M682.1,223.0L688.9,232.7M688.9,228.5L688.9,232.7L684.9,231.3"/><path d="M710.2,223.0L717.5,233.4M717.6,228.9L717.5,233.4L713.2,231.9"/><path d="M738.3,223.0L746.4,234.5M746.4,229.5L746.4,234.5L741.6,232.9"/><path d="M766.4,223.0L775.2,235.5M775.3,230.0L775.2,235.5L770.0,233.7"/><path d="M794.5,223.0L802.7,237.3M803.4,231.3L802.7,237.3L797.3,234.8"/><path d="M822.6,223.0L831.3,238.1M832.0,231.8L831.3,238.1L825.5,235.5"/><path d="M850.7,223.0L861.2,238.1M861.4,231.4L861.2,238.1L854.9,235.9"/><path d="M878.8,223.0L890.8,237.3M890.3,230.5L890.8,237.3L884.2,235.7"/><path d="M92.0,253.0L98.9,244.8M95.2,245.7L98.9,244.8L98.6,248.5"/><path d="M120.1,253.0L125.6,243.5M122.0,245.1L125.6,243.5L126.0,247.4"/><path d="M148.2,253.0L152.0,242.6M148.7,244.8L152.0,242.6L153.1,246.3"/><path d="M176.3,253.0L178.6,242.0M175.7,244.6L178.6,242.0L180.3,245.6"/><path d="M204.4,253.0L205.4,241.5M202.7,244.6L205.4,241.5L207.5,245.0"/><path d="M232.5,253.0L233.1,241.1M230.5,244.4L233.1,241.1L235.4,244.7"/><path d="M260.6,253.0L260.6,240.6M258.0,244.2L260.6,240.6L263.2,244.2"/><path d="M288.7,253.0L288.7,240.3M286.0,244.0L288.7,240.3L291.4,244.0"/><path d="M316.8,253.0L316.8,240.1M314.1,243.8L316.8,240.1L319.5,243.8"/><path d="M344.9,253.0L344.9,240.0M342.2,243.8L344.9,240.0L347.6,243.8"/><path d="M373.0,253.0L373.0,240.2M370.3,243.9L373.0,240.2L375.7,243.9"/><path d="M401.1,253.0L401.1,240.2M398.4,243.9L401.1,240.2L403.8,243.9"/><path d="M597.8,253.0L597.8,240.6M595.2,244.2L597.8,240.6L600.4,244.2"/><path d="M625.9,253.0L628.9,242.0M625.7,244.5L628.9,242.0L630.3,245.7"/><path d="M654.0,253.0L657.8,263.5M658.9,259.7L657.8,263.5L654.5,261.3"/><path d="M682.1,253.0L686.1,263.9M687.2,259.9L686.1,263.9L682.7,261.6"/><path d="M710.2,253.0L715.5,264.3M716.3,259.9L715.5,264.3L711.6,262.1"/><path d="M738.3,253.0L744.1,265.3M745.0,260.6L744.1,265.3L739.8,263.0"/><path d="M766.4,253.0L772.7,266.4M773.7,261.2L772.7,266.4L768.0,263.8"/><path d="M794.5,253.0L801.2,267.4M802.3,261.8L801.2,267.4L796.2,264.6"/><path d="M822.6,253.0L828.4,269.0M830.1,263.0L828.4,269.0L823.3,265.5"/><path d="M850.7,253.0L858.3,269.3M859.5,262.9L858.3,269.3L852.6,266.1"/><path d="M878.8,253.0L886.7,269.9M888.0,263.3L886.7,269.9L880.7,266.6"/><path d="M92.0,283.0L99.3,275.7M95.7,276.3L99.3,275.7L98.7,279.3"/><path d="M120.1,283.0L126.8,275.0M123.3,275.9L126.8,275.0L126.6,278.7"/><path d="M148.2,283.0L152.7,273.4M149.4,275.2L152.7,273.4L153.4,277.1"/><path d="M176.3,283.0L180.0,272.9M176.8,275.0L180.0,272.9L181.0,276.6"/><path d="M204.4,283.0L206.3,272.1M203.5,274.8L206.3,272.1L208.0,275.6"/><path d="M232.5,283.0L233.5,271.6M230.8,274.7L233.5,271.6L235.6,275.1"/><path d="M260.6,283.0L260.6,271.1M258.1,274.5L260.6,271.1L263.1,274.5"/><path d="M288.7,283.0L288.7,270.6M286.1,274.2L288.7,270.6L291.3,274.2"/><path d="M316.8,283.0L316.8,270.3M314.1,273.9L316.8,270.3L319.5,273.9"/><path d="M344.9,283.0L344.9,270.1M342.2,273.8L344.9,270.1L347.6,273.8"/><path d="M373.0,283.0L373.0,270.0M370.3,273.8L373.0,270.0L375.7,273.8"/><path d="M401.1,283.0L401.1,270.0M398.4,273.8L401.1,270.0L403.8,273.8"/><path d="M429.2,283.0L429.2,270.2M426.5,273.9L429.2,270.2L431.9,273.9"/><path d="M457.3,283.0L456.2,270.3M453.9,274.2L456.2,270.3L459.2,273.7"/><path d="M485.4,283.0L485.4,270.4M482.8,274.1L485.4,270.4L488.0,274.1"/><path d="M541.6,283.0L540.5,270.5M538.2,274.3L540.5,270.5L543.4,273.9"/><path d="M569.7,283.0L568.6,270.0M566.2,274.0L568.6,270.0L571.6,273.5"/><path d="M597.8,283.0L597.8,270.0M595.1,273.8L597.8,270.0L600.5,273.8"/><path d="M625.9,283.0L625.9,270.5M623.3,274.1L625.9,270.5L628.5,274.1"/><path d="M654.0,283.0L656.0,294.5M657.9,290.8L656.0,294.5L653.0,291.7"/><path d="M682.1,283.0L683.1,294.6M685.2,291.0L683.1,294.6L680.4,291.5"/><path d="M710.2,283.0L713.4,295.0M715.0,290.9L713.4,295.0L710.0,292.2"/><path d="M738.3,283.0L742.9,295.6M744.2,291.0L742.9,295.6L738.9,292.9"/><path d="M766.4,283.0L771.4,296.6M772.8,291.6L771.4,296.6L767.0,293.7"/><path d="M794.5,283.0L799.8,297.6M801.4,292.2L799.8,297.6L795.2,294.5"/><path d="M822.6,283.0L828.3,298.6M829.9,292.8L828.3,298.6L823.3,295.3"/><path d="M850.7,283.0L856.7,299.5M858.5,293.4L856.7,299.5L851.4,295.9"/><path d="M878.8,283.0L885.0,300.2M886.9,293.8L885.0,300.2L879.5,296.4"/><path d="M92.0,309.5L99.6,303.2M96.1,303.4L99.6,303.2L98.7,306.5"/><path d="M120.1,309.5L127.2,302.4M123.7,303.0L127.2,302.4L126.6,305.9"/><path d="M148.2,309.5L154.0,301.3M150.6,302.4L154.0,301.3L154.0,304.8"/><path d="M176.3,309.5L180.6,300.2M177.5,302.0L180.6,300.2L181.3,303.7"/><path d="M204.4,309.5L207.1,299.3M204.2,301.6L207.1,299.3L208.5,302.8"/><path d="M232.5,309.5L233.5,298.6M230.9,301.5L233.5,298.6L235.4,301.9"/><path d="M260.6,309.5L260.6,298.0M258.2,301.3L260.6,298.0L263.0,301.3"/><path d="M288.7,309.5L288.7,297.5M286.2,301.0L288.7,297.5L291.2,301.0"/><path d="M316.8,309.5L316.8,297.0M314.2,300.6L316.8,297.0L319.4,300.6"/><path d="M344.9,309.5L344.9,296.8M342.2,300.5L344.9,296.8L347.6,300.5"/><path d="M373.0,309.5L373.0,296.7M370.3,300.4L373.0,296.7L375.7,300.4"/><path d="M401.1,309.5L401.1,296.7M398.4,300.4L401.1,296.7L403.8,300.4"/><path d="M429.2,309.5L428.1,296.7M425.7,300.6L428.1,296.7L431.1,300.1"/><path d="M457.3,309.5L456.2,296.6M453.8,300.5L456.2,296.6L459.2,300.1"/><path d="M485.4,309.5L484.3,296.6M481.9,300.6L484.3,296.6L487.3,300.1"/><path d="M513.5,309.5L512.4,296.7M510.0,300.7L512.4,296.7L515.4,300.2"/><path d="M541.6,309.5L539.4,296.8M537.4,301.0L539.4,296.8L542.7,300.0"/><path d="M569.7,309.5L566.3,296.8M564.6,301.2L566.3,296.8L569.9,299.7"/><path d="M597.8,309.5L595.5,296.5M593.4,300.7L595.5,296.5L598.9,299.8"/><path d="M625.9,309.5L623.7,296.8M621.6,300.9L623.7,296.8L627.0,300.0"/><path d="M654.0,309.5L648.7,298.2M647.9,302.6L648.7,298.2L652.6,300.4"/><path d="M682.1,309.5L682.1,321.7M684.7,318.2L682.1,321.7L679.5,318.2"/><path d="M710.2,309.5L712.4,321.9M714.4,317.9L712.4,321.9L709.2,318.8"/><path d="M738.3,309.5L739.5,323.0M742.0,318.8L739.5,323.0L736.3,319.3"/><path d="M766.4,309.5L767.7,323.9M770.3,319.4L767.7,323.9L764.3,320.0"/><path d="M794.5,309.5L795.8,324.9M798.7,320.1L795.8,324.9L792.2,320.7"/><path d="M822.6,309.5L824.0,325.6M827.0,320.6L824.0,325.6L820.2,321.2"/><path d="M850.7,309.5L853.0,326.1M855.9,320.8L853.0,326.1L848.8,321.8"/><path d="M878.8,309.5L881.8,326.7M884.6,321.0L881.8,326.7L877.3,322.3"/><path d="M92.0,336.0L99.7,330.6M96.4,330.5L99.7,330.6L98.6,333.7"/><path d="M120.1,336.0L127.4,329.8M124.1,330.1L127.4,329.8L126.6,333.1"/><path d="M148.2,336.0L154.4,328.7M151.1,329.5L154.4,328.7L154.1,332.0"/><path d="M176.3,336.0L181.2,327.6M178.1,328.9L181.2,327.6L181.5,330.9"/><path d="M204.4,336.0L207.8,326.5M204.9,328.5L207.8,326.5L208.8,329.9"/><path d="M232.5,336.0L234.3,325.6M231.7,328.2L234.3,325.6L236.0,329.0"/><path d="M260.6,336.0L260.6,325.0M258.3,328.1L260.6,325.0L262.9,328.1"/><path d="M288.7,336.0L288.7,324.5M286.3,327.8L288.7,324.5L291.1,327.8"/><path d="M316.8,336.0L316.8,324.1M314.3,327.5L316.8,324.1L319.3,327.5"/><path d="M344.9,336.0L344.9,323.7M342.3,327.3L344.9,323.7L347.5,327.3"/><path d="M373.0,336.0L373.0,323.6M370.4,327.1L373.0,323.6L375.6,327.1"/><path d="M401.1,336.0L401.1,323.6M398.5,327.2L401.1,323.6L403.7,327.2"/><path d="M429.2,336.0L428.1,323.4M425.8,327.3L428.1,323.4L431.1,326.8"/><path d="M457.3,336.0L455.1,323.3M453.1,327.5L455.1,323.3L458.4,326.5"/><path d="M485.4,336.0L483.1,323.1M481.1,327.3L483.1,323.1L486.5,326.4"/><path d="M513.5,336.0L510.1,323.4M508.4,327.7L510.1,323.4L513.7,326.3"/><path d="M541.6,336.0L538.2,323.3M536.5,327.7L538.2,323.3L541.8,326.3"/><path d="M569.7,336.0L565.1,323.5M563.8,328.1L565.1,323.5L569.1,326.1"/><path d="M597.8,336.0L594.3,323.1M592.6,327.5L594.3,323.1L598.1,326.1"/><path d="M625.9,336.0L622.5,323.3M620.8,327.7L622.5,323.3L626.1,326.2"/><path d="M654.0,336.0L646.6,325.4M646.5,330.0L646.6,325.4L650.9,326.9"/><path d="M682.1,336.0L669.3,333.8M672.6,337.1L669.3,333.8L673.5,331.7"/><path d="M710.2,336.0L706.8,348.8M710.5,345.8L706.8,348.8L705.1,344.4"/><path d="M738.3,336.0L738.3,349.8M741.2,345.8L738.3,349.8L735.4,345.8"/><path d="M766.4,336.0L766.4,350.5M769.5,346.3L766.4,350.5L763.3,346.3"/><path d="M794.5,336.0L794.5,351.2M797.7,346.7L794.5,351.2L791.3,346.7"/><path d="M822.6,336.0L822.6,351.7M825.9,347.1L822.6,351.7L819.3,347.1"/><path d="M850.7,336.0L852.1,352.3M855.2,347.2L852.1,352.3L848.2,347.8"/><path d="M878.8,336.0L880.3,352.9M883.4,347.6L880.3,352.9L876.2,348.3"/><path d="M92.0,364.0L99.3,358.9M96.2,358.8L99.3,358.9L98.3,361.8"/><path d="M120.1,364.0L127.1,358.1M123.9,358.3L127.1,358.1L126.3,361.2"/><path d="M148.2,364.0L154.6,357.6M151.5,358.1L154.6,357.6L154.1,360.7"/><path d="M176.3,364.0L181.6,356.5M178.6,357.5L181.6,356.5L181.6,359.7"/><path d="M204.4,364.0L208.4,355.3M205.5,356.9L208.4,355.3L209.1,358.6"/><path d="M232.5,364.0L235.1,354.3M232.4,356.5L235.1,354.3L236.4,357.6"/><path d="M260.6,364.0L261.5,353.5M259.1,356.3L261.5,353.5L263.4,356.7"/><path d="M288.7,364.0L288.7,353.0M286.4,356.1L288.7,353.0L291.0,356.1"/><path d="M316.8,364.0L316.8,352.6M314.4,355.9L316.8,352.6L319.2,355.9"/><path d="M344.9,364.0L344.9,352.3M342.5,355.6L344.9,352.3L347.3,355.6"/><path d="M373.0,364.0L373.0,352.1M370.5,355.5L373.0,352.1L375.5,355.5"/><path d="M401.1,364.0L401.1,352.0M398.6,355.5L401.1,352.0L403.6,355.5"/><path d="M429.2,364.0L427.1,351.9M425.2,355.8L427.1,351.9L430.2,355.0"/><path d="M457.3,364.0L454.0,351.8M452.4,356.0L454.0,351.8L457.5,354.6"/><path d="M485.4,364.0L482.1,351.6M480.4,355.9L482.1,351.6L485.6,354.5"/><path d="M513.5,364.0L509.1,351.8M507.8,356.2L509.1,351.8L512.9,354.4"/><path d="M541.6,364.0L537.1,351.7M535.8,356.2L537.1,351.7L541.0,354.3"/><path d="M569.7,364.0L564.1,351.9M563.2,356.6L564.1,351.9L568.2,354.2"/><path d="M597.8,364.0L593.2,351.4M591.9,356.0L593.2,351.4L597.2,354.1"/><path d="M625.9,364.0L619.2,352.4M618.7,357.2L619.2,352.4L623.6,354.3"/><path d="M654.0,364.0L643.7,355.4M644.9,360.0L643.7,355.4L648.5,355.7"/><path d="M682.1,364.0L669.1,360.5M672.1,364.3L669.1,360.5L673.6,358.8"/><path d="M710.2,364.0L702.4,375.2M707.0,373.6L702.4,375.2L702.3,370.3"/><path d="M738.3,364.0L734.7,377.6M738.6,374.4L734.7,377.6L732.9,372.9"/><path d="M766.4,364.0L762.6,378.0M766.7,374.7L762.6,378.0L760.8,373.2"/><path d="M794.5,364.0L793.2,378.9M796.7,374.8L793.2,378.9L790.4,374.3"/><path d="M822.6,364.0L822.6,379.3M825.9,374.9L822.6,379.3L819.3,374.9"/><path d="M850.7,364.0L850.7,379.8M854.1,375.2L850.7,379.8L847.3,375.2"/><path d="M878.8,364.0L878.8,379.9M882.2,375.3L878.8,379.9L875.4,375.3"/><path d="M92.0,391.0L98.9,386.2M96.0,386.1L98.9,386.2L98.0,388.9"/><path d="M120.1,391.0L127.3,385.9M124.3,385.9L127.3,385.9L126.3,388.8"/><path d="M148.2,391.0L154.7,385.6M151.8,385.8L154.7,385.6L154.0,388.4"/><path d="M176.3,391.0L182.4,384.9M179.5,385.3L182.4,384.9L182.0,387.8"/><path d="M204.4,391.0L208.9,383.2M206.1,384.4L208.9,383.2L209.3,386.3"/><path d="M232.5,391.0L235.0,381.8M232.4,383.9L235.0,381.8L236.2,384.9"/><path d="M260.6,391.0L261.5,381.0M259.2,383.6L261.5,381.0L263.3,384.0"/><path d="M288.7,391.0L289.3,380.5M286.9,383.3L289.3,380.5L291.3,383.6"/><path d="M316.8,391.0L316.8,380.1M314.5,383.2L316.8,380.1L319.1,383.2"/><path d="M344.9,391.0L344.9,379.8M342.6,383.0L344.9,379.8L347.2,383.0"/><path d="M373.0,391.0L373.0,379.6M370.6,382.9L373.0,379.6L375.4,382.9"/><path d="M401.1,391.0L401.1,379.4M398.7,382.7L401.1,379.4L403.5,382.7"/><path d="M429.2,391.0L427.1,379.2M425.3,383.0L427.1,379.2L430.2,382.2"/><path d="M457.3,391.0L453.1,379.5M451.9,383.7L453.1,379.5L456.7,381.9"/><path d="M485.4,391.0L481.1,379.2M479.9,383.5L481.1,379.2L484.8,381.7"/><path d="M513.5,391.0L508.1,379.5M507.3,383.9L508.1,379.5L512.1,381.7"/><path d="M541.6,391.0L535.2,379.9M534.7,384.4L535.2,379.9L539.4,381.7"/><path d="M569.7,391.0L561.3,381.0M561.6,385.7L561.3,381.0L565.8,382.1"/><path d="M597.8,391.0L589.4,381.0M589.8,385.7L589.4,381.0L593.9,382.2"/><path d="M625.9,391.0L616.7,381.8M617.4,386.4L616.7,381.8L621.3,382.5"/><path d="M654.0,391.0L642.1,385.4M644.4,389.6L642.1,385.4L646.7,384.5"/><path d="M682.1,391.0L669.2,387.5M672.2,391.3L669.2,387.5L673.6,385.8"/><path d="M710.2,391.0L702.3,402.3M707.0,400.7L702.3,402.3L702.2,397.3"/><path d="M738.3,391.0L732.4,403.7M736.8,401.3L732.4,403.7L731.4,398.8"/><path d="M766.4,391.0L761.5,404.4M765.8,401.5L761.5,404.4L760.1,399.4"/><path d="M794.5,391.0L792.0,405.1M795.7,401.5L792.0,405.1L789.8,400.5"/><path d="M822.6,391.0L821.3,405.5M824.8,401.5L821.3,405.5L818.6,401.0"/><path d="M850.7,391.0L850.7,405.6M853.8,401.3L850.7,405.6L847.6,401.3"/><path d="M878.8,391.0L878.8,405.4M881.8,401.2L878.8,405.4L875.8,401.2"/><path d="M92.0,419.5L99.4,416.1M96.6,415.5L99.4,416.1L98.0,418.5"/><path d="M120.1,419.5L127.4,415.3M124.5,415.0L127.4,415.3L126.2,417.9"/><path d="M148.2,419.5L154.9,414.8M152.1,414.7L154.9,414.8L154.0,417.5"/><path d="M176.3,419.5L182.6,414.2M179.8,414.4L182.6,414.2L181.9,417.0"/><path d="M204.4,419.5L208.7,412.1M206.0,413.3L208.7,412.1L209.0,415.0"/><path d="M232.5,419.5L235.6,410.9M233.0,412.7L235.6,410.9L236.5,414.0"/><path d="M260.6,419.5L262.3,410.0M259.9,412.3L262.3,410.0L263.8,413.0"/><path d="M288.7,419.5L289.6,409.4M287.3,412.1L289.6,409.4L291.4,412.5"/><path d="M316.8,419.5L316.8,409.1M314.6,412.0L316.8,409.1L319.0,412.0"/><path d="M344.9,419.5L344.9,408.8M342.7,411.8L344.9,408.8L347.1,411.8"/><path d="M373.0,419.5L373.0,408.6M370.7,411.7L373.0,408.6L375.3,411.7"/><path d="M401.1,419.5L401.1,408.3M398.8,411.5L401.1,408.3L403.4,411.5"/><path d="M429.2,419.5L429.2,408.0M426.8,411.3L429.2,408.0L431.6,411.3"/><path d="M457.3,419.5L456.3,407.7M454.1,411.3L456.3,407.7L459.0,410.9"/><path d="M485.4,419.5L481.3,408.2M480.1,412.3L481.3,408.2L484.8,410.6"/><path d="M513.5,419.5L507.4,408.9M506.9,413.2L507.4,408.9L511.4,410.7"/><path d="M541.6,419.5L534.4,409.3M534.4,413.7L534.4,409.3L538.6,410.7"/><path d="M569.7,419.5L560.0,411.4M561.1,415.7L560.0,411.4L564.5,411.7"/><path d="M597.8,419.5L587.5,412.3M588.9,416.5L587.5,412.3L592.0,412.2"/><path d="M625.9,419.5L615.0,413.2M616.9,417.3L615.0,413.2L619.5,412.8"/><path d="M654.0,419.5L641.5,417.3M644.7,420.5L641.5,417.3L645.6,415.3"/><path d="M682.1,419.5L671.5,426.9M676.1,427.0L671.5,426.9L673.0,422.6"/><path d="M710.2,419.5L701.6,429.7M706.3,428.6L701.6,429.7L702.0,425.0"/><path d="M738.3,419.5L732.6,431.8M736.8,429.4L732.6,431.8L731.7,427.0"/><path d="M766.4,419.5L760.7,431.8M764.9,429.5L760.7,431.8L759.7,427.0"/><path d="M794.5,419.5L791.0,432.6M794.8,429.5L791.0,432.6L789.3,428.1"/><path d="M822.6,419.5L820.3,432.7M823.7,429.4L820.3,432.7L818.2,428.4"/><path d="M850.7,419.5L848.4,432.5M851.8,429.2L848.4,432.5L846.3,428.3"/><path d="M878.8,419.5L876.6,432.2M879.9,429.0L876.6,432.2L874.5,428.1"/><path d="M92.0,448.0L99.4,445.3M96.8,444.6L99.4,445.3L97.9,447.5"/><path d="M120.1,448.0L127.4,444.6M124.7,444.1L127.4,444.6L126.0,447.0"/><path d="M148.2,448.0L155.4,444.7M152.7,444.1L155.4,444.7L154.0,447.0"/><path d="M176.3,448.0L182.8,443.4M180.1,443.4L182.8,443.4L181.9,446.0"/><path d="M204.4,448.0L209.7,441.6M207.0,442.3L209.7,441.6L209.5,444.5"/><path d="M232.5,448.0L236.2,440.0M233.6,441.5L236.2,440.0L236.8,443.0"/><path d="M260.6,448.0L262.2,438.9M259.9,441.1L262.2,438.9L263.6,441.8"/><path d="M288.7,448.0L289.5,438.4M287.3,441.0L289.5,438.4L291.3,441.3"/><path d="M316.8,448.0L316.8,438.0M314.8,440.9L316.8,438.0L318.8,440.9"/><path d="M344.9,448.0L344.9,437.8M342.8,440.7L344.9,437.8L347.0,440.7"/><path d="M373.0,448.0L373.0,437.5M370.8,440.5L373.0,437.5L375.2,440.5"/><path d="M401.1,448.0L401.1,437.2M398.9,440.3L401.1,437.2L403.3,440.3"/><path d="M429.2,448.0L429.2,436.9M426.9,440.1L429.2,436.9L431.5,440.1"/><path d="M457.3,448.0L455.3,436.8M453.6,440.4L455.3,436.8L458.2,439.6"/><path d="M485.4,448.0L480.5,437.5M479.7,441.5L480.5,437.5L484.1,439.5"/><path d="M513.5,448.0L506.7,438.3M506.7,442.5L506.7,438.3L510.7,439.7"/><path d="M541.6,448.0L533.1,439.5M533.8,443.7L533.1,439.5L537.3,440.2"/><path d="M569.7,448.0L558.7,442.9M560.8,446.6L558.7,442.9L563.0,442.1"/><path d="M597.8,448.0L586.2,444.9M588.9,448.2L586.2,444.9L590.2,443.4"/><path d="M625.9,448.0L614.1,447.0M617.2,449.7L614.1,447.0L617.7,444.8"/><path d="M654.0,448.0L642.7,452.1M646.8,453.3L642.7,452.1L645.1,448.6"/><path d="M682.1,448.0L672.3,455.7M676.7,455.5L672.3,455.7L673.5,451.4"/><path d="M710.2,448.0L702.0,457.8M706.4,456.7L702.0,457.8L702.3,453.3"/><path d="M738.3,448.0L730.0,457.9M734.5,456.8L730.0,457.9L730.3,453.3"/><path d="M766.4,448.0L759.0,458.5M763.4,457.0L759.0,458.5L759.0,453.9"/><path d="M794.5,448.0L788.2,458.9M792.3,457.1L788.2,458.9L787.7,454.5"/><path d="M822.6,448.0L816.5,458.6M820.4,456.9L816.5,458.6L816.0,454.3"/><path d="M850.7,448.0L843.8,457.8M847.8,456.4L843.8,457.8L843.7,453.6"/><path d="M878.8,448.0L872.0,457.7M876.0,456.3L872.0,457.7L871.9,453.5"/><path d="M92.0,477.0L99.3,475.1M96.9,474.1L99.3,475.1L97.7,477.0"/><path d="M120.1,477.0L127.4,475.0M125.0,474.1L127.4,475.0L125.8,477.0"/><path d="M148.2,477.0L155.3,474.4M152.8,473.7L155.3,474.4L153.9,476.5"/><path d="M176.3,477.0L183.4,473.7M180.7,473.2L183.4,473.7L182.1,476.0"/><path d="M204.4,477.0L210.1,471.3M207.4,471.7L210.1,471.3L209.7,474.0"/><path d="M232.5,477.0L236.7,469.7M234.1,470.9L236.7,469.7L237.0,472.6"/><path d="M260.6,477.0L262.9,468.6M260.5,470.5L262.9,468.6L263.9,471.4"/><path d="M288.7,477.0L289.5,467.9M287.4,470.3L289.5,467.9L291.1,470.6"/><path d="M316.8,477.0L316.8,467.5M314.9,470.2L316.8,467.5L318.7,470.2"/><path d="M344.9,477.0L344.9,467.2M342.9,470.0L344.9,467.2L346.9,470.0"/><path d="M373.0,477.0L373.0,466.9M370.9,469.8L373.0,466.9L375.1,469.8"/><path d="M401.1,477.0L401.1,466.6M399.0,469.6L401.1,466.6L403.2,469.6"/><path d="M429.2,477.0L429.2,466.3M427.0,469.4L429.2,466.3L431.4,469.4"/><path d="M457.3,477.0L455.4,466.2M453.7,469.7L455.4,466.2L458.2,468.9"/><path d="M485.4,477.0L481.6,466.5M480.5,470.3L481.6,466.5L484.8,468.7"/><path d="M513.5,477.0L507.0,467.7M506.9,471.7L507.0,467.7L510.8,469.0"/><path d="M541.6,477.0L532.8,469.6M533.8,473.6L532.8,469.6L536.9,469.9"/><path d="M569.7,477.0L558.4,475.0M561.2,477.9L558.4,475.0L562.1,473.2"/><path d="M597.8,477.0L586.6,475.0M589.4,477.9L586.6,475.0L590.2,473.3"/><path d="M625.9,477.0L615.3,480.8M619.2,481.9L615.3,480.8L617.6,477.6"/><path d="M654.0,477.0L644.1,482.7M648.1,483.1L644.1,482.7L645.7,479.0"/><path d="M682.1,477.0L673.1,484.5M677.3,484.2L673.1,484.5L674.1,480.5"/><path d="M710.2,477.0L701.8,485.4M705.9,484.8L701.8,485.4L702.4,481.3"/><path d="M738.3,477.0L729.9,485.4M734.0,484.8L729.9,485.4L730.5,481.3"/><path d="M766.4,477.0L758.1,485.3M762.2,484.6L758.1,485.3L758.8,481.2"/><path d="M794.5,477.0L786.5,485.0M790.4,484.4L786.5,485.0L787.1,481.1"/><path d="M822.6,477.0L815.6,485.4M819.3,484.5L815.6,485.4L815.8,481.5"/><path d="M850.7,477.0L843.7,485.3M847.4,484.4L843.7,485.3L844.0,481.5"/><path d="M878.8,477.0L871.8,485.3M875.5,484.4L871.8,485.3L872.1,481.5"/><path d="M92.0,507.0L99.0,505.8M96.8,504.7L99.0,505.8L97.3,507.6"/><path d="M120.1,507.0L127.2,505.8M124.9,504.7L127.2,505.8L125.4,507.6"/><path d="M148.2,507.0L155.2,505.1M152.8,504.2L155.2,505.1L153.6,507.1"/><path d="M176.3,507.0L183.4,504.4M180.9,503.7L183.4,504.4L182.0,506.5"/><path d="M204.4,507.0L210.8,502.5M208.1,502.5L210.8,502.5L209.9,505.0"/><path d="M232.5,507.0L237.7,500.8M235.0,501.5L237.7,500.8L237.5,503.6"/><path d="M260.6,507.0L264.1,499.5M261.6,500.8L264.1,499.5L264.7,502.3"/><path d="M288.7,507.0L290.2,498.4M288.0,500.5L290.2,498.4L291.5,501.1"/><path d="M316.8,507.0L317.6,498.0M315.5,500.4L317.6,498.0L319.2,500.7"/><path d="M344.9,507.0L344.9,497.7M343.0,500.3L344.9,497.7L346.8,500.3"/><path d="M373.0,507.0L373.0,497.4M371.0,500.1L373.0,497.4L375.0,500.1"/><path d="M401.1,507.0L401.1,497.1M399.1,499.9L401.1,497.1L403.1,499.9"/><path d="M429.2,507.0L428.3,496.8M426.5,499.9L428.3,496.8L430.7,499.5"/><path d="M457.3,507.0L455.5,496.6M453.9,500.0L455.5,496.6L458.1,499.2"/><path d="M485.4,507.0L481.7,496.9M480.7,500.5L481.7,496.9L484.9,499.0"/><path d="M513.5,507.0L504.6,500.7M505.8,504.4L504.6,500.7L508.4,500.7"/><path d="M541.6,507.0L530.7,507.0M533.8,509.3L530.7,507.0L533.8,504.7"/><path d="M569.7,507.0L559.5,510.7M563.2,511.8L559.5,510.7L561.7,507.5"/><path d="M597.8,507.0L590.2,514.6M594.0,514.0L590.2,514.6L590.8,510.8"/><path d="M625.9,507.0L618.4,514.5M622.1,513.9L618.4,514.5L619.0,510.8"/><path d="M654.0,507.0L646.4,514.6M650.1,514.0L646.4,514.6L647.0,510.9"/><path d="M682.1,507.0L675.1,515.3M678.8,514.4L675.1,515.3L675.4,511.5"/><path d="M710.2,507.0L702.5,514.7M706.3,514.1L702.5,514.7L703.1,510.9"/><path d="M738.3,507.0L730.7,514.6M734.4,514.1L730.7,514.6L731.2,510.9"/><path d="M766.4,507.0L758.3,513.8M762.0,513.6L758.3,513.8L759.2,510.2"/><path d="M794.5,507.0L787.4,514.1M790.9,513.6L787.4,514.1L787.9,510.6"/><path d="M822.6,507.0L816.5,514.3M819.7,513.5L816.5,514.3L816.7,511.0"/><path d="M850.7,507.0L845.2,514.9M848.4,513.8L845.2,514.9L845.1,511.5"/><path d="M878.8,507.0L873.8,515.6M877.0,514.2L873.8,515.6L873.5,512.1"/><path d="M92.0,532.0L99.0,530.8M96.8,529.7L99.0,530.8L97.3,532.6"/><path d="M120.1,532.0L127.1,530.8M124.9,529.7L127.1,530.8L125.4,532.6"/><path d="M148.2,532.0L155.1,530.2M152.8,529.3L155.1,530.2L153.5,532.1"/><path d="M176.3,532.0L183.2,529.5M180.8,528.8L183.2,529.5L181.8,531.6"/><path d="M204.4,532.0L210.6,527.7M208.0,527.6L210.6,527.7L209.7,530.1"/><path d="M232.5,532.0L238.0,526.5M235.4,526.9L238.0,526.5L237.6,529.1"/><path d="M260.6,532.0L264.6,525.0M262.1,526.1L264.6,525.0L264.9,527.8"/><path d="M288.7,532.0L290.1,523.8M288.1,525.8L290.1,523.8L291.4,526.4"/><path d="M316.8,532.0L317.6,523.4M315.6,525.6L317.6,523.4L319.1,525.9"/><path d="M344.9,532.0L344.9,523.1M343.1,525.6L344.9,523.1L346.7,525.6"/><path d="M373.0,532.0L373.0,522.8M371.1,525.4L373.0,522.8L374.9,525.4"/><path d="M401.1,532.0L401.1,522.5M399.1,525.1L401.1,522.5L403.1,525.1"/><path d="M429.2,532.0L428.3,522.1M426.6,525.1L428.3,522.1L430.6,524.8"/><path d="M457.3,532.0L456.4,521.8M454.6,524.9L456.4,521.8L458.8,524.5"/><path d="M485.4,532.0L481.8,522.1M480.8,525.7L481.8,522.1L484.9,524.2"/><path d="M513.5,532.0L505.4,525.2M506.3,528.8L505.4,525.2L509.1,525.5"/><path d="M541.6,532.0L531.1,532.0M534.1,534.2L531.1,532.0L534.1,529.8"/><path d="M569.7,532.0L561.2,537.9M564.9,538.0L561.2,537.9L562.4,534.5"/><path d="M597.8,532.0L591.3,539.8M594.7,538.9L591.3,539.8L591.5,536.2"/><path d="M625.9,532.0L620.9,540.7M624.1,539.3L620.9,540.7L620.5,537.2"/><path d="M654.0,532.0L648.2,540.3M651.5,539.2L648.2,540.3L648.1,536.8"/><path d="M682.1,532.0L676.3,540.3M679.6,539.1L676.3,540.3L676.2,536.8"/><path d="M710.2,532.0L704.5,540.2M707.8,539.0L704.5,540.2L704.4,536.7"/><path d="M738.3,532.0L730.7,538.4M734.2,538.1L730.7,538.4L731.6,535.0"/><path d="M766.4,532.0L757.9,536.9M761.3,537.3L757.9,536.9L759.3,533.8"/><path d="M794.5,532.0L786.1,535.9M789.3,536.5L786.1,535.9L787.7,533.1"/><path d="M850.7,532.0L847.0,539.9M849.7,538.4L847.0,539.9L846.4,536.9"/><path d="M878.8,532.0L873.4,539.7M876.5,538.6L873.4,539.7L873.3,536.4"/><path d="M92.0,563.0L99.1,562.8M97.1,561.4L99.1,562.8L97.2,564.3"/><path d="M120.1,563.0L127.2,562.8M125.2,561.4L127.2,562.8L125.3,564.3"/><path d="M148.2,563.0L155.3,562.4M153.2,561.1L155.3,562.4L153.4,564.0"/><path d="M176.3,563.0L183.2,561.2M180.9,560.3L183.2,561.2L181.6,563.1"/><path d="M204.4,563.0L210.6,559.4M208.2,559.1L210.6,559.4L209.6,561.7"/><path d="M232.5,563.0L238.6,558.7M236.1,558.7L238.6,558.7L237.8,561.1"/><path d="M260.6,563.0L266.1,557.5M263.5,557.9L266.1,557.5L265.7,560.1"/><path d="M288.7,563.0L292.7,556.1M290.2,557.2L292.7,556.1L293.0,558.8"/><path d="M316.8,563.0L318.2,554.9M316.2,556.9L318.2,554.9L319.5,557.4"/><path d="M344.9,563.0L344.9,554.6M343.2,556.9L344.9,554.6L346.6,556.9"/><path d="M373.0,563.0L373.0,554.2M371.2,556.7L373.0,554.2L374.8,556.7"/><path d="M401.1,563.0L401.1,553.8M399.2,556.4L401.1,553.8L403.0,556.4"/><path d="M429.2,563.0L429.2,553.5M427.2,556.2L429.2,553.5L431.2,556.2"/><path d="M457.3,563.0L457.3,553.2M455.3,555.9L457.3,553.2L459.3,555.9"/><path d="M485.4,563.0L485.4,552.9M483.3,555.7L485.4,552.9L487.5,555.7"/><path d="M513.5,563.0L511.7,553.0M510.2,556.2L511.7,553.0L514.3,555.5"/><path d="M541.6,563.0L531.7,563.0M534.5,565.0L531.7,563.0L534.5,561.0"/><path d="M569.7,563.0L564.8,571.4M567.9,570.0L564.8,571.4L564.5,568.0"/><path d="M597.8,563.0L594.5,571.9M597.3,570.1L594.5,571.9L593.6,568.7"/><path d="M625.9,563.0L622.7,571.8M625.4,570.0L622.7,571.8L621.8,568.7"/><path d="M654.0,563.0L650.0,571.5M652.9,569.9L650.0,571.5L649.4,568.3"/><path d="M682.1,563.0L678.2,571.4M681.0,569.8L678.2,571.4L677.6,568.2"/><path d="M710.2,563.0L707.1,571.4M709.7,569.7L707.1,571.4L706.3,568.4"/><path d="M738.3,563.0L734.6,570.9M737.2,569.5L734.6,570.9L734.0,568.0"/><path d="M766.4,563.0L762.0,570.6M764.8,569.3L762.0,570.6L761.7,567.6"/><path d="M794.5,563.0L786.0,563.7M788.6,565.2L786.0,563.7L788.3,561.8"/><path d="M822.6,563.0L819.8,555.3M819.0,558.0L819.8,555.3L822.1,556.9"/><path d="M850.7,563.0L842.0,563.0M844.4,564.8L842.0,563.0L844.4,561.2"/><path d="M878.8,563.0L875.7,571.5M878.3,569.8L875.7,571.5L874.8,568.5"/><path d="M92.0,589.0L99.1,589.0M97.1,587.5L99.1,589.0L97.1,590.5"/><path d="M120.1,589.0L127.2,589.0M125.2,587.5L127.2,589.0L125.2,590.5"/><path d="M148.2,589.0L155.3,588.8M153.3,587.4L155.3,588.8L153.4,590.3"/><path d="M176.3,589.0L183.3,587.8M181.1,586.7L183.3,587.8L181.6,589.6"/><path d="M204.4,589.0L210.9,586.0M208.4,585.5L210.9,586.0L209.7,588.2"/><path d="M232.5,589.0L238.8,585.4M236.3,585.1L238.8,585.4L237.7,587.7"/><path d="M260.6,589.0L266.7,584.7M264.2,584.7L266.7,584.7L265.9,587.1"/><path d="M288.7,589.0L293.7,583.1M291.1,583.7L293.7,583.1L293.5,585.7"/><path d="M316.8,589.0L320.8,582.1M318.3,583.2L320.8,582.1L321.0,584.8"/><path d="M344.9,589.0L346.3,581.0M344.3,582.9L346.3,581.0L347.5,583.5"/><path d="M373.0,589.0L373.0,580.5M371.3,582.9L373.0,580.5L374.7,582.9"/><path d="M401.1,589.0L401.1,580.1M399.3,582.6L401.1,580.1L402.9,582.6"/><path d="M429.2,589.0L429.2,579.8M427.3,582.4L429.2,579.8L431.1,582.4"/><path d="M457.3,589.0L457.3,579.5M455.3,582.1L457.3,579.5L459.3,582.1"/><path d="M485.4,589.0L485.4,579.2M483.4,582.0L485.4,579.2L487.4,582.0"/><path d="M513.5,589.0L514.4,579.2M512.1,581.8L514.4,579.2L516.1,582.2"/><path d="M541.6,589.0L543.3,579.6M540.9,581.9L543.3,579.6L544.7,582.6"/><path d="M569.7,589.0L568.9,598.2M571.0,595.8L568.9,598.2L567.2,595.5"/><path d="M597.8,589.0L596.2,597.8M598.5,595.7L596.2,597.8L594.9,595.0"/><path d="M625.9,589.0L624.4,597.6M626.6,595.5L624.4,597.6L623.0,594.9"/><path d="M654.0,589.0L652.5,597.5M654.6,595.5L652.5,597.5L651.2,594.8"/><path d="M682.1,589.0L679.9,597.2M682.2,595.3L679.9,597.2L678.9,594.4"/><path d="M710.2,589.0L708.1,597.0M710.3,595.2L708.1,597.0L707.0,594.3"/><path d="M766.4,589.0L758.4,590.4M760.9,591.6L758.4,590.4L760.3,588.4"/><path d="M794.5,589.0L786.5,590.4M789.0,591.6L786.5,590.4L788.4,588.4"/><path d="M822.6,589.0L815.6,585.0M816.7,587.5L815.6,585.0L818.4,584.7"/><path d="M850.7,589.0L843.5,593.2M846.3,593.5L843.5,593.2L844.6,590.6"/><path d="M878.8,589.0L875.9,596.9M878.3,595.3L875.9,596.9L875.1,594.1"/><path d="M92.0,622.0L99.1,623.0M97.3,621.3L99.1,623.0L96.9,624.2"/><path d="M120.1,622.0L127.2,623.0M125.4,621.3L127.2,623.0L125.0,624.2"/><path d="M148.2,622.0L155.3,622.6M153.4,621.0L155.3,622.6L153.2,623.9"/><path d="M176.3,622.0L183.4,622.2M181.5,620.7L183.4,622.2L181.4,623.6"/><path d="M204.4,622.0L211.5,621.8M209.5,620.4L211.5,621.8L209.6,623.3"/><path d="M232.5,622.0L239.5,620.5M237.2,619.5L239.5,620.5L237.8,622.4"/><path d="M260.6,622.0L266.9,618.6M264.4,618.3L266.9,618.6L265.8,620.9"/><path d="M288.7,622.0L293.9,616.8M291.4,617.2L293.9,616.8L293.5,619.3"/><path d="M316.8,622.0L320.6,615.4M318.2,616.5L320.6,615.4L320.9,618.0"/><path d="M344.9,622.0L347.3,614.5M345.2,616.1L347.3,614.5L348.2,617.1"/><path d="M373.0,622.0L374.7,614.0M372.6,615.8L374.7,614.0L375.9,616.5"/><path d="M401.1,622.0L401.8,613.5M399.9,615.7L401.8,613.5L403.4,616.0"/><path d="M429.2,622.0L430.0,613.2M428.0,615.5L430.0,613.2L431.6,615.8"/><path d="M457.3,622.0L458.1,612.9M456.0,615.3L458.1,612.9L459.7,615.6"/><path d="M485.4,622.0L487.0,612.7M484.7,615.0L487.0,612.7L488.5,615.6"/><path d="M513.5,622.0L516.0,612.8M513.4,614.9L516.0,612.8L517.2,615.9"/><path d="M541.6,622.0L550.0,618.1M546.8,617.5L550.0,618.1L548.4,620.9"/><path d="M569.7,622.0L572.0,630.5M573.1,627.7L572.0,630.5L569.6,628.6"/><path d="M597.8,622.0L598.5,630.4M600.0,627.9L598.5,630.4L596.6,628.2"/><path d="M625.9,622.0L625.2,630.2M627.0,628.0L625.2,630.2L623.7,627.7"/><path d="M654.0,622.0L653.3,630.1M655.1,628.0L653.3,630.1L651.9,627.7"/><path d="M710.2,622.0L708.8,629.7M710.8,627.9L708.8,629.7L707.7,627.3"/><path d="M738.3,622.0L733.3,627.9M735.9,627.3L733.3,627.9L733.5,625.3"/><path d="M766.4,622.0L762.5,628.7M764.9,627.6L762.5,628.7L762.3,626.1"/><path d="M794.5,622.0L791.9,629.2M794.0,627.7L791.9,629.2L791.2,626.7"/><path d="M822.6,622.0L817.6,627.9M820.2,627.3L817.6,627.9L817.8,625.3"/><path d="M850.7,622.0L845.6,628.1M848.2,627.4L845.6,628.1L845.8,625.4"/><path d="M878.8,622.0L874.8,628.9M877.3,627.8L874.8,628.9L874.5,626.2"/><path d="M92.0,649.0L98.6,651.7M97.3,649.6L98.6,651.7L96.2,652.3"/><path d="M120.1,649.0L126.8,651.4M125.4,649.4L126.8,651.4L124.4,652.1"/><path d="M148.2,649.0L155.0,651.2M153.5,649.2L155.0,651.2L152.6,652.0"/><path d="M176.3,649.0L183.2,650.8M181.6,648.9L183.2,650.8L180.9,651.7"/><path d="M204.4,649.0L211.4,650.2M209.7,648.4L211.4,650.2L209.2,651.3"/><path d="M232.5,649.0L239.6,649.2M237.7,647.7L239.6,649.2L237.6,650.6"/><path d="M260.6,649.0L267.6,647.5M265.3,646.5L267.6,647.5L265.9,649.4"/><path d="M288.7,649.0L294.8,645.2M292.3,645.0L294.8,645.2L293.8,647.5"/><path d="M316.8,649.0L321.7,643.5M319.3,644.0L321.7,643.5L321.5,646.0"/><path d="M344.9,649.0L348.5,642.2M346.2,643.4L348.5,642.2L348.9,644.8"/><path d="M373.0,649.0L375.5,641.4M373.3,643.0L375.5,641.4L376.3,644.0"/><path d="M401.1,649.0L402.5,640.9M400.5,642.8L402.5,640.9L403.8,643.4"/><path d="M429.2,649.0L429.9,640.5M428.0,642.7L429.9,640.5L431.5,643.0"/><path d="M457.3,649.0L458.1,640.1M456.1,642.5L458.1,640.1L459.7,642.8"/><path d="M485.4,649.0L487.0,639.9M484.7,642.1L487.0,639.9L488.4,642.8"/><path d="M513.5,649.0L516.7,640.2M514.0,642.1L516.7,640.2L517.6,643.4"/><path d="M541.6,649.0L548.5,643.2M545.4,643.4L548.5,643.2L547.7,646.2"/><path d="M569.7,649.0L578.2,650.5M576.1,648.4L578.2,650.5L575.5,651.8"/><path d="M597.8,649.0L599.9,656.9M600.9,654.3L599.9,656.9L597.7,655.2"/><path d="M625.9,649.0L627.3,656.7M628.4,654.3L627.3,656.7L625.3,654.9"/><path d="M682.1,649.0L689.3,651.6M687.8,649.5L689.3,651.6L686.8,652.3"/><path d="M710.2,649.0L712.1,656.2M713.1,653.9L712.1,656.2L710.2,654.6"/><path d="M738.3,649.0L737.7,656.3M739.3,654.4L737.7,656.3L736.4,654.2"/><path d="M850.7,649.0L848.1,656.1M850.2,654.7L848.1,656.1L847.4,653.6"/><path d="M878.8,649.0L876.2,656.1M878.3,654.7L876.2,656.1L875.5,653.6"/></g>
<rect x="90" y="141" width="813" height="523" fill="none" stroke="#222" stroke-width="1.25"/>
<g stroke="#000" stroke-width="1.8" stroke-dasharray="1.8 4.2" fill="none"><line x1="91.7" y1="141.8" x2="903" y2="141.8"/><line x1="91.7" y1="664" x2="903" y2="664"/><line x1="90" y1="143.6" x2="90" y2="664"/><line x1="903" y1="143.6" x2="903" y2="664"/><line x1="90" y1="141.45" x2="90" y2="664"/><line x1="903" y1="141.45" x2="903" y2="664"/></g>
<g font-family="Liberation Sans, sans-serif" font-size="6.6" fill="#444"><rect x="894.5" y="129.0" width="17" height="8.5" fill="#fff"/><text x="903.0" y="135.5" text-anchor="middle">52°W</text><rect x="894.5" y="668.0" width="17" height="8.5" fill="#fff"/><text x="903.0" y="674.5" text-anchor="middle">52°W</text><rect x="869.9" y="129.0" width="17" height="8.5" fill="#fff"/><text x="878.4" y="135.5" text-anchor="middle">53°W</text><rect x="869.9" y="668.0" width="17" height="8.5" fill="#fff"/><text x="878.4" y="674.5" text-anchor="middle">53°W</text><rect x="845.2" y="129.0" width="17" height="8.5" fill="#fff"/><text x="853.7" y="135.5" text-anchor="middle">54°W</text><rect x="845.2" y="668.0" width="17" height="8.5" fill="#fff"/><text x="853.7" y="674.5" text-anchor="middle">54°W</text><rect x="820.6" y="129.0" width="17" height="8.5" fill="#fff"/><text x="829.1" y="135.5" text-anchor="middle">55°W</text><rect x="820.6" y="668.0" width="17" height="8.5" fill="#fff"/><text x="829.1" y="674.5" text-anchor="middle">55°W</text><rect x="795.9" y="129.0" width="17" height="8.5" fill="#fff"/><text x="804.4" y="135.5" text-anchor="middle">56°W</text><rect x="795.9" y="668.0" width="17" height="8.5" fill="#fff"/><text x="804.4" y="674.5" text-anchor="middle">56°W</text><rect x="771.3" y="129.0" width="17" height="8.5" fill="#fff"/><text x="779.8" y="135.5" text-anchor="middle">57°W</text><rect x="771.3" y="668.0" width="17" height="8.5" fill="#fff"/><text x="779.8" y="674.5" text-anchor="middle">57°W</text><rect x="746.7" y="129.0" width="17" height="8.5" fill="#fff"/><text x="755.2" y="135.5" text-anchor="middle">58°W</text><rect x="746.7" y="668.0" width="17" height="8.5" fill="#fff"/><text x="755.2" y="674.5" text-anchor="middle">58°W</text><rect x="722.0" y="129.0" width="17" height="8.5" fill="#fff"/><text x="730.5" y="135.5" text-anchor="middle">59°W</text><rect x="722.0" y="668.0" width="17" height="8.5" fill="#fff"/><text x="730.5" y="674.5" text-anchor="middle">59°W</text><rect x="697.4" y="129.0" width="17" height="8.5" fill="#fff"/><text x="705.9" y="135.5" text-anchor="middle">60°W</text><rect x="697.4" y="668.0" width="17" height="8.5" fill="#fff"/><text x="705.9" y="674.5" text-anchor="middle">60°W</text><rect x="672.8" y="129.0" width="17" height="8.5" fill="#fff"/><text x="681.3" y="135.5" text-anchor="middle">61°W</text><rect x="672.8" y="668.0" width="17" height="8.5" fill="#fff"/><text x="681.3" y="674.5" text-anchor="middle">61°W</text><rect x="648.1" y="129.0" width="17" height="8.5" fill="#fff"/><text x="656.6" y="135.5" text-anchor="middle">62°W</text><rect x="648.1" y="668.0" width="17" height="8.5" fill="#fff"/><text x="656.6" y="674.5" text-anchor="middle">62°W</text><rect x="623.5" y="129.0" width="17" height="8.5" fill="#fff"/><text x="632.0" y="135.5" text-anchor="middle">63°W</text><rect x="623.5" y="668.0" width="17" height="8.5" fill="#fff"/><text x="632.0" y="674.5" text-anchor="middle">63°W</text><rect x="598.9" y="129.0" width="17" height="8.5" fill="#fff"/><text x="607.4" y="135.5" text-anchor="middle">64°W</text><rect x="598.9" y="668.0" width="17" height="8.5" fill="#fff"/><text x="607.4" y="674.5" text-anchor="middle">64°W</text><rect x="574.2" y="129.0" width="17" height="8.5" fill="#fff"/><text x="582.7" y="135.5" text-anchor="middle">65°W</text><rect x="574.2" y="668.0" width="17" height="8.5" fill="#fff"/><text x="582.7" y="674.5" text-anchor="middle">65°W</text><rect x="549.6" y="129.0" width="17" height="8.5" fill="#fff"/><text x="558.1" y="135.5" text-anchor="middle">66°W</text><rect x="549.6" y="668.0" width="17" height="8.5" fill="#fff"/><text x="558.1" y="674.5" text-anchor="middle">66°W</text><rect x="524.9" y="129.0" width="17" height="8.5" fill="#fff"/><text x="533.4" y="135.5" text-anchor="middle">67°W</text><rect x="524.9" y="668.0" width="17" height="8.5" fill="#fff"/><text x="533.4" y="674.5" text-anchor="middle">67°W</text><rect x="500.3" y="129.0" width="17" height="8.5" fill="#fff"/><text x="508.8" y="135.5" text-anchor="middle">68°W</text><rect x="500.3" y="668.0" width="17" height="8.5" fill="#fff"/><text x="508.8" y="674.5" text-anchor="middle">68°W</text><rect x="475.7" y="129.0" width="17" height="8.5" fill="#fff"/><text x="484.2" y="135.5" text-anchor="middle">69°W</text><rect x="475.7" y="668.0" width="17" height="8.5" fill="#fff"/><text x="484.2" y="674.5" text-anchor="middle">69°W</text><rect x="451.0" y="129.0" width="17" height="8.5" fill="#fff"/><text x="459.5" y="135.5" text-anchor="middle">70°W</text><rect x="451.0" y="668.0" width="17" height="8.5" fill="#fff"/><text x="459.5" y="674.5" text-anchor="middle">70°W</text><rect x="426.4" y="129.0" width="17" height="8.5" fill="#fff"/><text x="434.9" y="135.5" text-anchor="middle">71°W</text><rect x="426.4" y="668.0" width="17" height="8.5" fill="#fff"/><text x="434.9" y="674.5" text-anchor="middle">71°W</text><rect x="401.8" y="129.0" width="17" height="8.5" fill="#fff"/><text x="410.3" y="135.5" text-anchor="middle">72°W</text><rect x="401.8" y="668.0" width="17" height="8.5" fill="#fff"/><text x="410.3" y="674.5" text-anchor="middle">72°W</text><rect x="377.1" y="129.0" width="17" height="8.5" fill="#fff"/><text x="385.6" y="135.5" text-anchor="middle">73°W</text><rect x="377.1" y="668.0" width="17" height="8.5" fill="#fff"/><text x="385.6" y="674.5" text-anchor="middle">73°W</text><rect x="352.5" y="129.0" width="17" height="8.5" fill="#fff"/><text x="361.0" y="135.5" text-anchor="middle">74°W</text><rect x="352.5" y="668.0" width="17" height="8.5" fill="#fff"/><text x="361.0" y="674.5" text-anchor="middle">74°W</text><rect x="327.9" y="129.0" width="17" height="8.5" fill="#fff"/><text x="336.4" y="135.5" text-anchor="middle">75°W</text><rect x="327.9" y="668.0" width="17" height="8.5" fill="#fff"/><text x="336.4" y="674.5" text-anchor="middle">75°W</text><rect x="303.2" y="129.0" width="17" height="8.5" fill="#fff"/><text x="311.7" y="135.5" text-anchor="middle">76°W</text><rect x="303.2" y="668.0" width="17" height="8.5" fill="#fff"/><text x="311.7" y="674.5" text-anchor="middle">76°W</text><rect x="278.6" y="129.0" width="17" height="8.5" fill="#fff"/><text x="287.1" y="135.5" text-anchor="middle">77°W</text><rect x="278.6" y="668.0" width="17" height="8.5" fill="#fff"/><text x="287.1" y="674.5" text-anchor="middle">77°W</text><rect x="254.0" y="129.0" width="17" height="8.5" fill="#fff"/><text x="262.5" y="135.5" text-anchor="middle">78°W</text><rect x="254.0" y="668.0" width="17" height="8.5" fill="#fff"/><text x="262.5" y="674.5" text-anchor="middle">78°W</text><rect x="229.3" y="129.0" width="17" height="8.5" fill="#fff"/><text x="237.8" y="135.5" text-anchor="middle">79°W</text><rect x="229.3" y="668.0" width="17" height="8.5" fill="#fff"/><text x="237.8" y="674.5" text-anchor="middle">79°W</text><rect x="204.7" y="129.0" width="17" height="8.5" fill="#fff"/><text x="213.2" y="135.5" text-anchor="middle">80°W</text><rect x="204.7" y="668.0" width="17" height="8.5" fill="#fff"/><text x="213.2" y="674.5" text-anchor="middle">80°W</text><rect x="180.0" y="129.0" width="17" height="8.5" fill="#fff"/><text x="188.5" y="135.5" text-anchor="middle">81°W</text><rect x="180.0" y="668.0" width="17" height="8.5" fill="#fff"/><text x="188.5" y="674.5" text-anchor="middle">81°W</text><rect x="155.4" y="129.0" width="17" height="8.5" fill="#fff"/><text x="163.9" y="135.5" text-anchor="middle">82°W</text><rect x="155.4" y="668.0" width="17" height="8.5" fill="#fff"/><text x="163.9" y="674.5" text-anchor="middle">82°W</text><rect x="130.8" y="129.0" width="17" height="8.5" fill="#fff"/><text x="139.3" y="135.5" text-anchor="middle">83°W</text><rect x="130.8" y="668.0" width="17" height="8.5" fill="#fff"/><text x="139.3" y="674.5" text-anchor="middle">83°W</text><rect x="106.1" y="129.0" width="17" height="8.5" fill="#fff"/><text x="114.6" y="135.5" text-anchor="middle">84°W</text><rect x="106.1" y="668.0" width="17" height="8.5" fill="#fff"/><text x="114.6" y="674.5" text-anchor="middle">84°W</text><rect x="81.5" y="129.0" width="17" height="8.5" fill="#fff"/><text x="90.0" y="135.5" text-anchor="middle">85°W</text><rect x="81.5" y="668.0" width="17" height="8.5" fill="#fff"/><text x="90.0" y="674.5" text-anchor="middle">85°W</text><text x="86.5" y="172.1" text-anchor="end">53°S</text><text x="906" y="172.1" text-anchor="start">53°S</text><text x="86.5" y="213.3" text-anchor="end">54°S</text><text x="906" y="213.3" text-anchor="start">54°S</text><text x="86.5" y="255.7" text-anchor="end">55°S</text><text x="906" y="255.7" text-anchor="start">55°S</text><text x="86.5" y="299.0" text-anchor="end">56°S</text><text x="906" y="299.0" text-anchor="start">56°S</text><text x="86.5" y="343.5" text-anchor="end">57°S</text><text x="906" y="343.5" text-anchor="start">57°S</text><text x="86.5" y="389.2" text-anchor="end">58°S</text><text x="906" y="389.2" text-anchor="start">58°S</text><text x="86.5" y="436.3" text-anchor="end">59°S</text><text x="906" y="436.3" text-anchor="start">59°S</text><text x="86.5" y="484.7" text-anchor="end">60°S</text><text x="906" y="484.7" text-anchor="start">60°S</text><text x="86.5" y="534.6" text-anchor="end">61°S</text><text x="906" y="534.6" text-anchor="start">61°S</text><text x="86.5" y="586.0" text-anchor="end">62°S</text><text x="906" y="586.0" text-anchor="start">62°S</text><text x="86.5" y="639.2" text-anchor="end">63°S</text><text x="906" y="639.2" text-anchor="start">63°S</text></g>
<g font-family="Liberation Sans, sans-serif" font-weight="bold" font-size="10.5" fill="#0a0af0"><text x="60.00" y="678" text-anchor="middle">0</text><text x="141.82" y="678" text-anchor="middle">0.5</text><text x="223.64" y="678" text-anchor="middle">1</text><text x="305.45" y="678" text-anchor="middle">2</text><text x="387.27" y="678" text-anchor="middle">3</text><text x="469.09" y="678" text-anchor="middle">4</text><text x="550.91" y="678" text-anchor="middle">6</text><text x="632.73" y="678" text-anchor="middle">8</text><text x="714.55" y="678" text-anchor="middle">10</text><text x="796.36" y="678" text-anchor="middle">12</text><text x="878.18" y="678" text-anchor="middle">14</text><text x="960.00" y="678" text-anchor="middle">20</text></g><rect x="60.00" y="684" width="81.82" height="18" fill="rgb(200,222,250)"/><rect x="141.82" y="684" width="81.82" height="18" fill="rgb(0,114,250)"/><rect x="223.64" y="684" width="81.82" height="18" fill="rgb(122,164,252)"/><rect x="305.45" y="684" width="81.82" height="18" fill="rgb(32,250,8)"/><rect x="387.27" y="684" width="81.82" height="18" fill="#ffff00"/><rect x="469.09" y="684" width="81.82" height="18" fill="rgb(255,215,0)"/><rect x="550.91" y="684" width="81.82" height="18" fill="rgb(255,165,0)"/><rect x="632.73" y="684" width="81.82" height="18" fill="rgb(255,115,0)"/><rect x="714.55" y="684" width="81.82" height="18" fill="rgb(255,0,0)"/><rect x="796.36" y="684" width="81.82" height="18" fill="rgb(105,15,0)"/><rect x="878.18" y="684" width="81.82" height="18" fill="rgb(52,52,52)"/><line x1="141.82" y1="684" x2="141.82" y2="702" stroke="#222" stroke-width="0.9"/><line x1="223.64" y1="684" x2="223.64" y2="702" stroke="#222" stroke-width="0.9"/><line x1="305.45" y1="684" x2="305.45" y2="702" stroke="#222" stroke-width="0.9"/><line x1="387.27" y1="684" x2="387.27" y2="702" stroke="#222" stroke-width="0.9"/><line x1="469.09" y1="684" x2="469.09" y2="702" stroke="#222" stroke-width="0.9"/><line x1="550.91" y1="684" x2="550.91" y2="702" stroke="#222" stroke-width="0.9"/><line x1="632.73" y1="684" x2="632.73" y2="702" stroke="#222" stroke-width="0.9"/><line x1="714.55" y1="684" x2="714.55" y2="702" stroke="#222" stroke-width="0.9"/><line x1="796.36" y1="684" x2="796.36" y2="702" stroke="#222" stroke-width="0.9"/><line x1="878.18" y1="684" x2="878.18" y2="702" stroke="#222" stroke-width="0.9"/><rect x="60" y="684" width="900" height="18" fill="none" stroke="#222" stroke-width="1.2"/>
<text x="160.1" y="56.8" font-family="Liberation Sans, sans-serif" font-size="23.27" fill="#0a0af0">HRES-WAM: 17-03-2026 12Z Previsto para el Jue 19 a las 04Z</text>
<text x="150.5" y="106.8" font-family="Liberation Sans, sans-serif" font-style="italic" font-size="23.18" fill="#640064">Mar Compuesto: Altura significativa de olas (m) y direccion media</text>
</svg>
</body></html>
